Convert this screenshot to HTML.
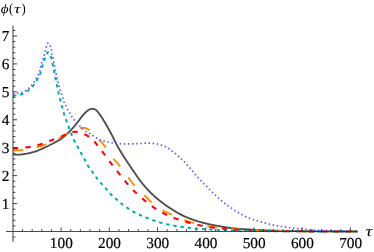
<!DOCTYPE html>
<html><head><meta charset="utf-8"><title>plot</title>
<style>html,body{margin:0;padding:0;background:#fff;}body{width:374px;height:252px;overflow:hidden;font-family:"Liberation Serif",serif;}svg{display:block;transform:translateZ(0);will-change:transform}</style>
</head><body>
<svg width="374" height="252" viewBox="0 0 374 252">
<rect width="374" height="252" fill="#fff"/>
<path d="M13.00,154.55 L13.50,154.59 L14.00,154.62 L14.50,154.64 L15.00,154.67 L15.50,154.68 L16.00,154.69 L16.50,154.70 L17.00,154.70 L17.50,154.70 L18.00,154.68 L18.50,154.66 L19.00,154.64 L19.50,154.60 L20.00,154.57 L20.50,154.53 L21.00,154.49 L21.50,154.44 L22.00,154.40 L22.50,154.35 L23.00,154.29 L23.50,154.23 L24.00,154.15 L24.50,154.07 L25.00,153.99 L25.50,153.90 L26.00,153.81 L26.50,153.71 L27.00,153.62 L27.50,153.52 L28.00,153.42 L28.50,153.32 L29.00,153.21 L29.50,153.10 L30.00,152.98 L30.50,152.86 L31.00,152.73 L31.50,152.60 L32.00,152.47 L32.50,152.34 L33.00,152.20 L33.50,152.05 L34.00,151.90 L34.50,151.75 L35.00,151.60 L35.50,151.44 L36.00,151.27 L36.50,151.09 L37.00,150.91 L37.50,150.72 L38.00,150.52 L38.50,150.32 L39.00,150.11 L39.50,149.90 L40.00,149.69 L40.50,149.47 L41.00,149.25 L41.50,149.02 L42.00,148.80 L42.50,148.57 L43.00,148.34 L43.50,148.12 L44.00,147.89 L44.50,147.66 L45.00,147.44 L45.50,147.21 L46.00,146.97 L46.50,146.74 L47.00,146.50 L47.50,146.26 L48.00,146.02 L48.50,145.78 L49.00,145.53 L49.50,145.28 L50.00,145.03 L50.50,144.78 L51.00,144.52 L51.50,144.26 L52.00,144.00 L52.50,143.74 L53.00,143.47 L53.50,143.21 L54.00,142.94 L54.50,142.67 L55.00,142.40 L55.50,142.13 L56.00,141.86 L56.50,141.59 L57.00,141.31 L57.50,141.03 L58.00,140.74 L58.50,140.45 L59.00,140.15 L59.50,139.84 L60.00,139.53 L60.50,139.21 L61.00,138.87 L61.50,138.53 L62.00,138.17 L62.50,137.80 L63.00,137.41 L63.50,137.01 L64.00,136.60 L64.50,136.18 L65.00,135.75 L65.50,135.31 L66.00,134.87 L66.50,134.42 L67.00,133.96 L67.50,133.51 L68.00,133.04 L68.50,132.57 L69.00,132.08 L69.50,131.59 L70.00,131.08 L70.50,130.57 L71.00,130.04 L71.50,129.51 L72.00,128.96 L72.50,128.40 L73.00,127.82 L73.50,127.23 L74.00,126.63 L74.50,126.03 L75.00,125.41 L75.50,124.80 L76.00,124.18 L76.50,123.57 L77.00,122.95 L77.50,122.32 L78.00,121.68 L78.50,121.02 L79.00,120.36 L79.50,119.69 L80.00,119.01 L80.50,118.34 L81.00,117.68 L81.50,117.02 L82.00,116.38 L82.50,115.76 L83.00,115.15 L83.50,114.57 L84.00,114.02 L84.50,113.50 L85.00,113.00 L85.50,112.51 L86.00,112.03 L86.50,111.58 L87.00,111.15 L87.50,110.75 L88.00,110.39 L88.50,110.08 L89.00,109.78 L89.50,109.51 L90.00,109.29 L90.50,109.12 L91.00,108.97 L91.50,108.85 L92.00,108.77 L92.50,108.76 L93.00,108.81 L93.50,108.90 L94.00,109.02 L94.50,109.19 L95.00,109.44 L95.50,109.74 L96.00,110.07 L96.50,110.48 L97.00,110.95 L97.50,111.50 L98.00,112.14 L98.50,112.80 L99.00,113.47 L99.50,114.15 L100.00,114.85 L100.50,115.57 L101.00,116.30 L101.50,117.04 L102.00,117.80 L102.50,118.57 L103.00,119.35 L103.50,120.14 L104.00,120.95 L104.50,121.77 L105.00,122.60 L105.50,123.45 L106.00,124.31 L106.50,125.18 L107.00,126.06 L107.50,126.95 L108.00,127.86 L108.50,128.77 L109.00,129.69 L109.50,130.61 L110.00,131.54 L110.50,132.48 L111.00,133.42 L111.50,134.37 L112.00,135.32 L112.50,136.28 L113.00,137.27 L113.50,138.28 L114.00,139.30 L114.50,140.33 L115.00,141.34 L115.50,142.33 L116.00,143.29 L116.50,144.23 L117.00,145.15 L117.50,146.07 L118.00,146.97 L118.50,147.87 L119.00,148.75 L119.50,149.62 L120.00,150.48 L120.50,151.33 L121.00,152.17 L121.50,152.99 L122.00,153.81 L122.50,154.61 L123.00,155.40 L123.50,156.19 L124.00,156.97 L124.50,157.74 L125.00,158.51 L125.50,159.27 L126.00,160.03 L126.50,160.79 L127.00,161.55 L127.50,162.30 L128.00,163.05 L128.50,163.80 L129.00,164.54 L129.50,165.28 L130.00,166.01 L130.50,166.75 L131.00,167.48 L131.50,168.20 L132.00,168.93 L132.50,169.66 L133.00,170.38 L133.50,171.11 L134.00,171.84 L134.50,172.58 L135.00,173.32 L135.50,174.07 L136.00,174.82 L136.50,175.57 L137.00,176.31 L137.50,177.04 L138.00,177.77 L138.50,178.48 L139.00,179.17 L139.50,179.85 L140.00,180.50 L140.50,181.14 L141.00,181.77 L141.50,182.39 L142.00,183.01 L142.50,183.63 L143.00,184.23 L143.50,184.83 L144.00,185.43 L144.50,186.01 L145.00,186.59 L145.50,187.17 L146.00,187.74 L146.50,188.30 L147.00,188.85 L147.50,189.40 L148.00,189.94 L148.50,190.47 L149.00,191.00 L149.50,191.51 L150.00,192.03 L150.50,192.53 L151.00,193.03 L151.50,193.52 L152.00,194.00 L152.50,194.48 L153.00,194.94 L153.50,195.41 L154.00,195.86 L154.50,196.31 L155.00,196.75 L155.50,197.19 L156.00,197.62 L156.50,198.05 L157.00,198.47 L157.50,198.89 L158.00,199.30 L158.50,199.71 L159.00,200.12 L159.50,200.52 L160.00,200.92 L160.50,201.31 L161.00,201.70 L161.50,202.09 L162.00,202.48 L162.50,202.86 L163.00,203.24 L163.50,203.62 L164.00,204.00 L164.50,204.37 L165.00,204.74 L165.50,205.10 L166.00,205.46 L166.50,205.80 L167.00,206.13 L167.50,206.46 L168.00,206.79 L168.50,207.12 L169.00,207.44 L169.50,207.77 L170.00,208.10 L170.50,208.42 L171.00,208.74 L171.50,209.07 L172.00,209.39 L172.50,209.70 L173.00,210.02 L173.50,210.34 L174.00,210.65 L174.50,210.96 L175.00,211.26 L175.50,211.57 L176.00,211.87 L176.50,212.17 L177.00,212.46 L177.50,212.75 L178.00,213.04 L178.50,213.32 L179.00,213.60 L179.50,213.87 L180.00,214.14 L180.50,214.41 L181.00,214.67 L181.50,214.92 L182.00,215.17 L182.50,215.41 L183.00,215.65 L183.50,215.88 L184.00,216.11 L184.50,216.33 L185.00,216.55 L185.50,216.77 L186.00,216.98 L186.50,217.19 L187.00,217.39 L187.50,217.60 L188.00,217.80 L188.50,218.00 L189.00,218.20 L189.50,218.39 L190.00,218.58 L190.50,218.77 L191.00,218.96 L191.50,219.15 L192.00,219.33 L192.50,219.51 L193.00,219.68 L193.50,219.86 L194.00,220.03 L194.50,220.20 L195.00,220.37 L195.50,220.53 L196.00,220.69 L196.50,220.85 L197.00,221.01 L197.50,221.17 L198.00,221.32 L198.50,221.47 L199.00,221.62 L199.50,221.77 L200.00,221.91 L200.50,222.05 L201.00,222.19 L201.50,222.33 L202.00,222.46 L202.50,222.60 L203.00,222.73 L203.50,222.86 L204.00,222.98 L204.50,223.11 L205.00,223.24 L205.50,223.36 L206.00,223.48 L206.50,223.60 L207.00,223.72 L207.50,223.83 L208.00,223.95 L208.50,224.06 L209.00,224.17 L209.50,224.28 L210.00,224.39 L210.50,224.50 L211.00,224.61 L211.50,224.71 L212.00,224.82 L212.50,224.92 L213.00,225.02 L213.50,225.12 L214.00,225.22 L214.50,225.31 L215.00,225.41 L215.50,225.50 L216.00,225.60 L216.50,225.69 L217.00,225.78 L217.50,225.87 L218.00,225.96 L218.50,226.05 L219.00,226.14 L219.50,226.23 L220.00,226.32 L220.50,226.41 L221.00,226.50 L221.50,226.59 L222.00,226.67 L222.50,226.76 L223.00,226.85 L223.50,226.93 L224.00,227.01 L224.50,227.10 L225.00,227.18 L225.50,227.26 L226.00,227.34 L226.50,227.42 L227.00,227.49 L227.50,227.57 L228.00,227.64 L228.50,227.71 L229.00,227.78 L229.50,227.85 L230.00,227.92 L230.50,227.98 L231.00,228.05 L231.50,228.11 L232.00,228.17 L232.50,228.22 L233.00,228.28 L233.50,228.33 L234.00,228.38 L234.50,228.43 L235.00,228.48 L235.50,228.52 L236.00,228.57 L236.50,228.61 L237.00,228.65 L237.50,228.69 L238.00,228.73 L238.50,228.77 L239.00,228.81 L239.50,228.85 L240.00,228.89 L240.50,228.92 L241.00,228.96 L241.50,228.99 L242.00,229.03 L242.50,229.06 L243.00,229.10 L243.50,229.13 L244.00,229.16 L244.50,229.19 L245.00,229.22 L245.50,229.25 L246.00,229.29 L246.50,229.32 L247.00,229.35 L247.50,229.37 L248.00,229.40 L248.50,229.43 L249.00,229.46 L249.50,229.49 L250.00,229.52 L250.50,229.55 L251.00,229.58 L251.50,229.61 L252.00,229.63 L252.50,229.66 L253.00,229.69 L253.50,229.72 L254.00,229.75 L254.50,229.78 L255.00,229.80 L255.50,229.83 L256.00,229.86 L256.50,229.89 L257.00,229.91 L257.50,229.94 L258.00,229.97 L258.50,229.99 L259.00,230.02 L259.50,230.05 L260.00,230.07 L260.50,230.10 L261.00,230.12 L261.50,230.15 L262.00,230.17 L262.50,230.20 L263.00,230.22 L263.50,230.24 L264.00,230.27 L264.50,230.29 L265.00,230.31 L265.50,230.33 L266.00,230.35 L266.50,230.37 L267.00,230.39 L267.50,230.41 L268.00,230.43 L268.50,230.45 L269.00,230.47 L269.50,230.48 L270.00,230.50 L270.50,230.52 L271.00,230.53 L271.50,230.55 L272.00,230.56 L272.50,230.58 L273.00,230.60 L273.50,230.61 L274.00,230.63 L274.50,230.64 L275.00,230.66 L275.50,230.67 L276.00,230.69 L276.50,230.70 L277.00,230.72 L277.50,230.73 L278.00,230.75 L278.50,230.76 L279.00,230.78 L279.50,230.79 L280.00,230.81 L280.50,230.82 L281.00,230.83 L281.50,230.85 L282.00,230.86 L282.50,230.87 L283.00,230.89 L283.50,230.90 L284.00,230.91 L284.50,230.92 L285.00,230.94 L285.50,230.95 L286.00,230.96 L286.50,230.97 L287.00,230.98 L287.50,231.00 L288.00,231.01 L288.50,231.02 L289.00,231.03 L289.50,231.04 L290.00,231.05 L290.50,231.06 L291.00,231.07 L291.50,231.08 L292.00,231.09 L292.50,231.10 L293.00,231.11 L293.50,231.11 L294.00,231.12 L294.50,231.13 L295.00,231.14 L295.50,231.15 L296.00,231.15 L296.50,231.16 L297.00,231.17 L297.50,231.17 L298.00,231.18 L298.50,231.18 L299.00,231.19 L299.50,231.20 L300.00,231.20 L300.50,231.20 L301.00,231.21 L301.50,231.21 L302.00,231.22 L302.50,231.22 L303.00,231.23 L303.50,231.23 L304.00,231.24 L304.50,231.24 L305.00,231.24 L305.50,231.25 L306.00,231.25 L306.50,231.26 L307.00,231.26 L307.50,231.27 L308.00,231.27 L308.50,231.27 L309.00,231.28 L309.50,231.28 L310.00,231.29 L310.50,231.29 L311.00,231.29 L311.50,231.30 L312.00,231.30 L312.50,231.31 L313.00,231.31 L313.50,231.31 L314.00,231.32 L314.50,231.32 L315.00,231.33 L315.50,231.33 L316.00,231.33 L316.50,231.34 L317.00,231.34 L317.50,231.34 L318.00,231.35 L318.50,231.35 L319.00,231.35 L319.50,231.36 L320.00,231.36 L320.50,231.36 L321.00,231.37 L321.50,231.37 L322.00,231.37 L322.50,231.38 L323.00,231.38 L323.50,231.38 L324.00,231.39 L324.50,231.39 L325.00,231.39 L325.50,231.40 L326.00,231.40 L326.50,231.40 L327.00,231.41 L327.50,231.41 L328.00,231.41 L328.50,231.41 L329.00,231.42 L329.50,231.42 L330.00,231.42 L330.50,231.43 L331.00,231.43 L331.50,231.43 L332.00,231.43 L332.50,231.44 L333.00,231.44 L333.50,231.44 L334.00,231.44 L334.50,231.44 L335.00,231.45 L335.50,231.45 L336.00,231.45 L336.50,231.45 L337.00,231.46 L337.50,231.46 L338.00,231.46 L338.50,231.46 L339.00,231.46 L339.50,231.47 L340.00,231.47 L340.50,231.47 L341.00,231.47 L341.50,231.47 L342.00,231.47 L342.50,231.48 L343.00,231.48 L343.50,231.48 L344.00,231.48 L344.50,231.48 L345.00,231.48 L345.50,231.48 L346.00,231.49 L346.50,231.49 L347.00,231.49 L347.50,231.49 L348.00,231.49 L348.50,231.49 L349.00,231.49 L349.50,231.49 L350.00,231.49 L350.50,231.49 L351.00,231.50 L351.50,231.50 L352.00,231.50 L352.50,231.50 L353.00,231.50 L353.50,231.50 L354.00,231.50 L354.50,231.50 L355.00,231.50 L355.50,231.50 L356.00,231.50 L356.50,231.50 L357.00,231.50 L357.50,231.50" fill="none" stroke="#4e4e4e" stroke-width="1.85" stroke-linejoin="round"/>
<path d="M13.00,150.50 L13.25,150.50 L13.50,150.50 L13.75,150.50 L14.00,150.49 L14.25,150.49 L14.50,150.49 L14.75,150.49 L15.00,150.48 L15.25,150.48 L15.50,150.47 L15.75,150.46 L16.00,150.46 L16.25,150.45 L16.50,150.44 L16.75,150.44 L17.00,150.43 L17.25,150.42 L17.50,150.41 L17.75,150.40 L18.00,150.39 L18.25,150.39 L18.50,150.38 L18.75,150.37 L19.00,150.36 L19.25,150.35 L19.50,150.33 L19.75,150.32 L20.00,150.31 L20.25,150.30 L20.50,150.29 L20.75,150.28 L21.00,150.26 L21.25,150.25 L21.50,150.23 L21.75,150.21 L22.00,150.19 L22.25,150.16 L22.50,150.14 L22.75,150.11 L23.00,150.09 L23.25,150.06 L23.50,150.03 L23.75,150.00 L24.00,149.97 L24.25,149.94 L24.50,149.90 L24.75,149.87 L25.00,149.83 L25.25,149.80 L25.50,149.76 L25.75,149.72 L26.00,149.68 L26.25,149.64 L26.50,149.60 L26.75,149.56 L27.00,149.52 L27.25,149.48 L27.50,149.44 L27.75,149.40 L28.00,149.35 L28.25,149.31 L28.50,149.27 L28.75,149.22 L29.00,149.18 L29.25,149.13 L29.50,149.09 L29.75,149.04 L30.00,149.00 L30.25,148.95 L30.50,148.91 L30.75,148.86 L31.00,148.81 L31.25,148.76 L31.50,148.71 L31.75,148.65 L32.00,148.60 L32.25,148.54 L32.50,148.48 L32.75,148.43 L33.00,148.37 L33.25,148.30 L33.50,148.24 L33.75,148.18 L34.00,148.11 L34.25,148.05 L34.50,147.98 L34.75,147.92 L35.00,147.85 L35.25,147.78 L35.50,147.71 L35.75,147.64 L36.00,147.57 L36.25,147.49 L36.50,147.42 L36.75,147.35 L37.00,147.27 L37.25,147.20 L37.50,147.13 L37.75,147.05 L38.00,146.97 L38.25,146.90 L38.50,146.82 L38.75,146.74 L39.00,146.67 L39.25,146.59 L39.50,146.51 L39.75,146.43 L40.00,146.35 L40.25,146.27 L40.50,146.19 L40.75,146.12 L41.00,146.04 L41.25,145.96 L41.50,145.87 L41.75,145.79 L42.00,145.71 L42.25,145.63 L42.50,145.54 L42.75,145.45 L43.00,145.37 L43.25,145.28 L43.50,145.19 L43.75,145.10 L44.00,145.01 L44.25,144.92 L44.50,144.83 L44.75,144.74 L45.00,144.64 L45.25,144.55 L45.50,144.45 L45.75,144.36 L46.00,144.26 L46.25,144.16 L46.50,144.07 L46.75,143.97 L47.00,143.87 L47.25,143.77 L47.50,143.67 L47.75,143.57 L48.00,143.46 L48.25,143.36 L48.50,143.26 L48.75,143.16 L49.00,143.05 L49.25,142.95 L49.50,142.84 L49.75,142.74 L50.00,142.63 L50.25,142.52 L50.50,142.42 L50.75,142.31 L51.00,142.20 L51.25,142.09 L51.50,141.98 L51.75,141.87 L52.00,141.76 L52.25,141.65 L52.50,141.53 L52.75,141.42 L53.00,141.30 L53.25,141.19 L53.50,141.07 L53.75,140.95 L54.00,140.83 L54.25,140.71 L54.50,140.59 L54.75,140.47 L55.00,140.35 L55.25,140.22 L55.50,140.10 L55.75,139.98 L56.00,139.85 L56.25,139.73 L56.50,139.60 L56.75,139.47 L57.00,139.34 L57.25,139.21 L57.50,139.09 L57.75,138.96 L58.00,138.83 L58.25,138.69 L58.50,138.56 L58.75,138.43 L59.00,138.30 L59.25,138.16 L59.50,138.03 L59.75,137.90 L60.00,137.76 L60.25,137.63 L60.50,137.49 L60.75,137.36 L61.00,137.22 L61.25,137.08 L61.50,136.94 L61.75,136.81 L62.00,136.66 L62.25,136.52 L62.50,136.37 L62.75,136.22 L63.00,136.07 L63.25,135.92 L63.50,135.77 L63.75,135.61 L64.00,135.45 L64.25,135.30 L64.50,135.14 L64.75,134.98 L65.00,134.82 L65.25,134.66 L65.50,134.50 L65.75,134.34 L66.00,134.18 L66.25,134.02 L66.50,133.86 L66.75,133.70 L67.00,133.55 L67.25,133.39 L67.50,133.24 L67.75,133.08 L68.00,132.93 L68.25,132.78 L68.50,132.64 L68.75,132.49 L69.00,132.35 L69.25,132.21 L69.50,132.07 L69.75,131.93 L70.00,131.80 L70.25,131.67 L70.50,131.54 L70.75,131.40 L71.00,131.27 L71.25,131.14 L71.50,131.01 L71.75,130.88 L72.00,130.74 L72.25,130.62 L72.50,130.49 L72.75,130.36 L73.00,130.24 L73.25,130.11 L73.50,129.99 L73.75,129.88 L74.00,129.76 L74.25,129.65 L74.50,129.55 L74.75,129.44 L75.00,129.35 L75.25,129.25 L75.50,129.16 L75.75,129.08 L76.00,129.00 L76.25,128.92 L76.50,128.85 L76.75,128.77 L77.00,128.70 L77.25,128.63 L77.50,128.56 L77.75,128.49 L78.00,128.42 L78.25,128.36 L78.50,128.30 L78.75,128.24 L79.00,128.19 L79.25,128.14 L79.50,128.10 L79.75,128.06 L80.00,128.03 L80.25,128.00 L80.50,127.98 L80.75,127.96 L81.00,127.94 L81.25,127.92 L81.50,127.90 L81.75,127.89 L82.00,127.87 L82.25,127.85 L82.50,127.84 L82.75,127.83 L83.00,127.82 L83.25,127.81 L83.50,127.80 L83.75,127.80 L84.00,127.80 L84.25,127.81 L84.50,127.83 L84.75,127.87 L85.00,127.92 L85.25,127.98 L85.50,128.06 L85.75,128.14 L86.00,128.24 L86.25,128.34 L86.50,128.46 L86.75,128.58 L87.00,128.71 L87.25,128.84 L87.50,128.98 L87.75,129.13 L88.00,129.27 L88.25,129.42 L88.50,129.57 L88.75,129.73 L89.00,129.88 L89.25,130.03 L89.50,130.18 L89.75,130.33 L90.00,130.49 L90.25,130.65 L90.50,130.83 L90.75,131.02 L91.00,131.21 L91.25,131.42 L91.50,131.63 L91.75,131.85 L92.00,132.07 L92.25,132.30 L92.50,132.54 L92.75,132.78 L93.00,133.02 L93.25,133.27 L93.50,133.51 L93.75,133.76 L94.00,134.01 L94.25,134.26 L94.50,134.51 L94.75,134.76 L95.00,135.00 L95.25,135.24 L95.50,135.49 L95.75,135.74 L96.00,136.00 L96.25,136.25 L96.50,136.51 L96.75,136.77 L97.00,137.03 L97.25,137.30 L97.50,137.57 L97.75,137.84 L98.00,138.11 L98.25,138.39 L98.50,138.66 L98.75,138.94 L99.00,139.23 L99.25,139.51 L99.50,139.79 L99.75,140.08 L100.00,140.37 L100.25,140.66 L100.50,140.95 L100.75,141.25 L101.00,141.54 L101.25,141.84 L101.50,142.15 L101.75,142.45 L102.00,142.76 L102.25,143.07 L102.50,143.38 L102.75,143.69 L103.00,144.01 L103.25,144.33 L103.50,144.65 L103.75,144.97 L104.00,145.29 L104.25,145.62 L104.50,145.94 L104.75,146.27 L105.00,146.60 L105.25,146.93 L105.50,147.26 L105.75,147.60 L106.00,147.93 L106.25,148.27 L106.50,148.61 L106.75,148.95 L107.00,149.30 L107.25,149.66 L107.50,150.02 L107.75,150.39 L108.00,150.75 L108.25,151.13 L108.50,151.50 L108.75,151.87 L109.00,152.25 L109.25,152.63 L109.50,153.01 L109.75,153.39 L110.00,153.77 L110.25,154.15 L110.50,154.52 L110.75,154.90 L111.00,155.27 L111.25,155.64 L111.50,156.01 L111.75,156.37 L112.00,156.73 L112.25,157.09 L112.50,157.44 L112.75,157.78 L113.00,158.12 L113.25,158.45 L113.50,158.77 L113.75,159.09 L114.00,159.40 L114.25,159.70 L114.50,159.99 L114.75,160.27 L115.00,160.54 L115.25,160.80 L115.50,161.07 L115.75,161.33 L116.00,161.59 L116.25,161.85 L116.50,162.12 L116.75,162.40 L117.00,162.68 L117.25,162.98 L117.50,163.27 L117.75,163.57 L118.00,163.87 L118.25,164.17 L118.50,164.48 L118.75,164.78 L119.00,165.09 L119.25,165.40 L119.50,165.72 L119.75,166.03 L120.00,166.35 L120.25,166.66 L120.50,166.98 L120.75,167.30 L121.00,167.62 L121.25,167.95 L121.50,168.27 L121.75,168.60 L122.00,168.93 L122.25,169.26 L122.50,169.58 L122.75,169.92 L123.00,170.25 L123.25,170.58 L123.50,170.91 L123.75,171.25 L124.00,171.58 L124.25,171.92 L124.50,172.26 L124.75,172.60 L125.00,172.93 L125.25,173.27 L125.50,173.61 L125.75,173.95 L126.00,174.29 L126.25,174.63 L126.50,174.97 L126.75,175.31 L127.00,175.65 L127.25,175.99 L127.50,176.33 L127.75,176.67 L128.00,177.01 L128.25,177.35 L128.50,177.69 L128.75,178.03 L129.00,178.37 L129.25,178.71 L129.50,179.05 L129.75,179.39 L130.00,179.73 L130.25,180.06 L130.50,180.40 L130.75,180.73 L131.00,181.07 L131.25,181.42 L131.50,181.77 L131.75,182.12 L132.00,182.46 L132.25,182.79 L132.50,183.10 L132.75,183.40 L133.00,183.70 L133.25,183.99 L133.50,184.28 L133.75,184.57 L134.00,184.86 L134.25,185.14 L134.50,185.42 L134.75,185.70 L135.00,185.97 L135.25,186.25 L135.50,186.52 L135.75,186.79 L136.00,187.05 L136.25,187.32 L136.50,187.58 L136.75,187.84 L137.00,188.10 L137.25,188.35 L137.50,188.61 L137.75,188.86 L138.00,189.11 L138.25,189.36 L138.50,189.61 L138.75,189.86 L139.00,190.11 L139.25,190.35 L139.50,190.60 L139.75,190.84 L140.00,191.09 L140.25,191.33 L140.50,191.57 L140.75,191.81 L141.00,192.05 L141.25,192.29 L141.50,192.53 L141.75,192.77 L142.00,193.01 L142.25,193.25 L142.50,193.49 L142.75,193.73 L143.00,193.97 L143.25,194.20 L143.50,194.44 L143.75,194.68 L144.00,194.93 L144.25,195.17 L144.50,195.41 L144.75,195.65 L145.00,195.89 L145.25,196.14 L145.50,196.38 L145.75,196.63 L146.00,196.88 L146.25,197.12 L146.50,197.37 L146.75,197.63 L147.00,197.88 L147.25,198.13 L147.50,198.39 L147.75,198.64 L148.00,198.90 L148.25,199.17 L148.50,199.44 L148.75,199.72 L149.00,199.99 L149.25,200.26 L149.50,200.52 L149.75,200.77 L150.00,201.00 L150.25,201.22 L150.50,201.45 L150.75,201.67 L151.00,201.89 L151.25,202.11 L151.50,202.32 L151.75,202.54 L152.00,202.75 L152.25,202.96 L152.50,203.17 L152.75,203.38 L153.00,203.59 L153.25,203.79 L153.50,204.00 L153.75,204.20 L154.00,204.40 L154.25,204.60 L154.50,204.80 L154.75,205.00 L155.00,205.19 L155.25,205.38 L155.50,205.57 L155.75,205.76 L156.00,205.95 L156.25,206.14 L156.50,206.32 L156.75,206.51 L157.00,206.69 L157.25,206.87 L157.50,207.05 L157.75,207.23 L158.00,207.40 L158.25,207.58 L158.50,207.75 L158.75,207.92 L159.00,208.09 L159.25,208.26 L159.50,208.42 L159.75,208.59 L160.00,208.75 L160.25,208.91 L160.50,209.07 L160.75,209.23 L161.00,209.38 L161.25,209.54 L161.50,209.69 L161.75,209.84 L162.00,209.99 L162.25,210.14 L162.50,210.29 L162.75,210.43 L163.00,210.57 L163.25,210.72 L163.50,210.86 L163.75,210.99 L164.00,211.13 L164.25,211.26 L164.50,211.38 L164.75,211.51 L165.00,211.63 L165.25,211.75 L165.50,211.87 L165.75,211.99 L166.00,212.10 L166.25,212.22 L166.50,212.33 L166.75,212.44 L167.00,212.55 L167.25,212.67 L167.50,212.78 L167.75,212.89 L168.00,213.00 L168.25,213.11 L168.50,213.22 L168.75,213.34 L169.00,213.45 L169.25,213.56 L169.50,213.67 L169.75,213.79 L170.00,213.90 L170.25,214.01 L170.50,214.13 L170.75,214.24 L171.00,214.35 L171.25,214.46 L171.50,214.58 L171.75,214.69 L172.00,214.80 L172.25,214.92 L172.50,215.03 L172.75,215.14 L173.00,215.26 L173.25,215.37 L173.50,215.48 L173.75,215.60 L174.00,215.71 L174.25,215.82 L174.50,215.93 L174.75,216.04 L175.00,216.16 L175.25,216.27 L175.50,216.38 L175.75,216.49 L176.00,216.60 L176.25,216.71 L176.50,216.82 L176.75,216.93 L177.00,217.04 L177.25,217.15 L177.50,217.26 L177.75,217.37 L178.00,217.48 L178.25,217.59 L178.50,217.69 L178.75,217.80 L179.00,217.91 L179.25,218.01 L179.50,218.12 L179.75,218.23 L180.00,218.33 L180.25,218.43 L180.50,218.54 L180.75,218.64 L181.00,218.74 L181.25,218.85 L181.50,218.95 L181.75,219.05 L182.00,219.15 L182.25,219.25 L182.50,219.35 L182.75,219.45 L183.00,219.54 L183.25,219.64 L183.50,219.74 L183.75,219.83 L184.00,219.93 L184.25,220.02 L184.50,220.12 L184.75,220.21 L185.00,220.30 L185.25,220.39 L185.50,220.48 L185.75,220.57 L186.00,220.66 L186.25,220.75 L186.50,220.83 L186.75,220.92 L187.00,221.00 L187.25,221.09 L187.50,221.17 L187.75,221.25 L188.00,221.33 L188.25,221.41 L188.50,221.49 L188.75,221.57 L189.00,221.65 L189.25,221.72 L189.50,221.80 L189.75,221.87 L190.00,221.94 L190.25,222.01 L190.50,222.09 L190.75,222.16 L191.00,222.23 L191.25,222.30 L191.50,222.37 L191.75,222.43 L192.00,222.50 L192.25,222.57 L192.50,222.64 L192.75,222.71 L193.00,222.78 L193.25,222.84 L193.50,222.91 L193.75,222.98 L194.00,223.04 L194.25,223.11 L194.50,223.17 L194.75,223.24 L195.00,223.30 L195.25,223.37 L195.50,223.43 L195.75,223.50 L196.00,223.56 L196.25,223.62 L196.50,223.69 L196.75,223.75 L197.00,223.81 L197.25,223.87 L197.50,223.93 L197.75,223.99 L198.00,224.05 L198.25,224.11 L198.50,224.17 L198.75,224.23 L199.00,224.29 L199.25,224.35 L199.50,224.41 L199.75,224.46 L200.00,224.52 L200.25,224.58 L200.50,224.63 L200.75,224.69 L201.00,224.75 L201.25,224.80 L201.50,224.86 L201.75,224.91 L202.00,224.96 L202.25,225.02 L202.50,225.07 L202.75,225.12 L203.00,225.18 L203.25,225.23 L203.50,225.28 L203.75,225.33 L204.00,225.38 L204.25,225.43 L204.50,225.48 L204.75,225.53 L205.00,225.58 L205.25,225.63 L205.50,225.68 L205.75,225.72 L206.00,225.77 L206.25,225.82 L206.50,225.86 L206.75,225.91 L207.00,225.95 L207.25,226.00 L207.50,226.04 L207.75,226.09 L208.00,226.13 L208.25,226.17 L208.50,226.21 L208.75,226.26 L209.00,226.30 L209.25,226.34 L209.50,226.38 L209.75,226.42 L210.00,226.46 L210.25,226.50 L210.50,226.54 L210.75,226.57 L211.00,226.61 L211.25,226.65 L211.50,226.69 L211.75,226.72 L212.00,226.76 L212.25,226.79 L212.50,226.83 L212.75,226.86 L213.00,226.90 L213.25,226.93 L213.50,226.97 L213.75,227.00 L214.00,227.04 L214.25,227.07 L214.50,227.11 L214.75,227.14 L215.00,227.17 L215.25,227.21 L215.50,227.24 L215.75,227.27 L216.00,227.30 L216.25,227.34 L216.50,227.37 L216.75,227.40 L217.00,227.43 L217.25,227.46 L217.50,227.50 L217.75,227.53 L218.00,227.56 L218.25,227.59 L218.50,227.62 L218.75,227.65 L219.00,227.68 L219.25,227.71 L219.50,227.74 L219.75,227.77 L220.00,227.80 L220.25,227.83 L220.50,227.86 L220.75,227.89 L221.00,227.91 L221.25,227.94 L221.50,227.97 L221.75,228.00 L222.00,228.03 L222.25,228.05 L222.50,228.08 L222.75,228.11 L223.00,228.14 L223.25,228.16 L223.50,228.19 L223.75,228.21 L224.00,228.24 L224.25,228.27 L224.50,228.29 L224.75,228.32 L225.00,228.34 L225.25,228.37 L225.50,228.39 L225.75,228.42 L226.00,228.44 L226.25,228.47 L226.50,228.49 L226.75,228.52 L227.00,228.54 L227.25,228.56 L227.50,228.59 L227.75,228.61 L228.00,228.63 L228.25,228.66 L228.50,228.68 L228.75,228.70 L229.00,228.72 L229.25,228.75 L229.50,228.77 L229.75,228.79 L230.00,228.81 L230.25,228.83 L230.50,228.85 L230.75,228.87 L231.00,228.89 L231.25,228.92 L231.50,228.94 L231.75,228.96 L232.00,228.98 L232.25,229.00 L232.50,229.01 L232.75,229.03 L233.00,229.05 L233.25,229.07 L233.50,229.09 L233.75,229.11 L234.00,229.13 L234.25,229.15 L234.50,229.16 L234.75,229.18 L235.00,229.20 L235.25,229.22 L235.50,229.23 L235.75,229.25 L236.00,229.27 L236.25,229.29 L236.50,229.30 L236.75,229.32 L237.00,229.34 L237.25,229.36 L237.50,229.37 L237.75,229.39 L238.00,229.41 L238.25,229.42 L238.50,229.44 L238.75,229.45 L239.00,229.47 L239.25,229.49 L239.50,229.50 L239.75,229.52 L240.00,229.54 L240.25,229.55 L240.50,229.57 L240.75,229.58 L241.00,229.60 L241.25,229.61 L241.50,229.63 L241.75,229.65 L242.00,229.66 L242.25,229.68 L242.50,229.69 L242.75,229.71 L243.00,229.72 L243.25,229.74 L243.50,229.75 L243.75,229.77 L244.00,229.78 L244.25,229.80 L244.50,229.81 L244.75,229.82 L245.00,229.84 L245.25,229.85 L245.50,229.87 L245.75,229.88 L246.00,229.89 L246.25,229.91 L246.50,229.92 L246.75,229.94 L247.00,229.95 L247.25,229.96 L247.50,229.98 L247.75,229.99 L248.00,230.00 L248.25,230.02 L248.50,230.03 L248.75,230.04 L249.00,230.05 L249.25,230.07 L249.50,230.08 L249.75,230.09 L250.00,230.10 L250.25,230.12 L250.50,230.13 L250.75,230.14 L251.00,230.15 L251.25,230.16 L251.50,230.17 L251.75,230.19 L252.00,230.20 L252.25,230.21 L252.50,230.22 L252.75,230.23 L253.00,230.24 L253.25,230.25 L253.50,230.26 L253.75,230.27 L254.00,230.28 L254.25,230.29 L254.50,230.31 L254.75,230.32 L255.00,230.33 L255.25,230.34 L255.50,230.34 L255.75,230.35 L256.00,230.36 L256.25,230.37 L256.50,230.38 L256.75,230.39 L257.00,230.40 L257.25,230.41 L257.50,230.42 L257.75,230.43 L258.00,230.44 L258.25,230.44 L258.50,230.45 L258.75,230.46 L259.00,230.47 L259.25,230.48 L259.50,230.48 L259.75,230.49 L260.00,230.50 L260.25,230.51 L260.50,230.51 L260.75,230.52 L261.00,230.53 L261.25,230.54 L261.50,230.54 L261.75,230.55 L262.00,230.56 L262.25,230.57 L262.50,230.57 L262.75,230.58 L263.00,230.59 L263.25,230.60 L263.50,230.60 L263.75,230.61 L264.00,230.62 L264.25,230.62 L264.50,230.63 L264.75,230.64 L265.00,230.65 L265.25,230.65 L265.50,230.66 L265.75,230.67 L266.00,230.67 L266.25,230.68 L266.50,230.69 L266.75,230.69 L267.00,230.70 L267.25,230.71 L267.50,230.71 L267.75,230.72 L268.00,230.73 L268.25,230.74 L268.50,230.74 L268.75,230.75 L269.00,230.76 L269.25,230.76 L269.50,230.77 L269.75,230.78 L270.00,230.78 L270.25,230.79 L270.50,230.79 L270.75,230.80 L271.00,230.81 L271.25,230.81 L271.50,230.82 L271.75,230.83 L272.00,230.83 L272.25,230.84 L272.50,230.85 L272.75,230.85 L273.00,230.86 L273.25,230.86 L273.50,230.87 L273.75,230.88 L274.00,230.88 L274.25,230.89 L274.50,230.89 L274.75,230.90 L275.00,230.91 L275.25,230.91 L275.50,230.92 L275.75,230.92 L276.00,230.93 L276.25,230.94 L276.50,230.94 L276.75,230.95 L277.00,230.95 L277.25,230.96 L277.50,230.96 L277.75,230.97 L278.00,230.98 L278.25,230.98 L278.50,230.99 L278.75,230.99 L279.00,231.00 L279.25,231.00 L279.50,231.01 L279.75,231.01 L280.00,231.02 L280.25,231.02 L280.50,231.03 L280.75,231.03 L281.00,231.04 L281.25,231.04 L281.50,231.05 L281.75,231.05 L282.00,231.06 L282.25,231.06 L282.50,231.07 L282.75,231.07 L283.00,231.08 L283.25,231.08 L283.50,231.09 L283.75,231.09 L284.00,231.10 L284.25,231.10 L284.50,231.11 L284.75,231.11 L285.00,231.12 L285.25,231.12 L285.50,231.12 L285.75,231.13 L286.00,231.13 L286.25,231.14 L286.50,231.14 L286.75,231.15 L287.00,231.15 L287.25,231.15 L287.50,231.16 L287.75,231.16 L288.00,231.17 L288.25,231.17 L288.50,231.17 L288.75,231.18 L289.00,231.18 L289.25,231.19 L289.50,231.19 L289.75,231.19 L290.00,231.20 L290.25,231.20 L290.50,231.20 L290.75,231.21 L291.00,231.21 L291.25,231.21 L291.50,231.22 L291.75,231.22 L292.00,231.22 L292.25,231.23 L292.50,231.23 L292.75,231.23 L293.00,231.24 L293.25,231.24 L293.50,231.24 L293.75,231.24 L294.00,231.25 L294.25,231.25 L294.50,231.25 L294.75,231.26 L295.00,231.26 L295.25,231.26 L295.50,231.26 L295.75,231.27 L296.00,231.27 L296.25,231.27 L296.50,231.27 L296.75,231.28 L297.00,231.28 L297.25,231.28 L297.50,231.28 L297.75,231.28 L298.00,231.29 L298.25,231.29 L298.50,231.29 L298.75,231.29 L299.00,231.29 L299.25,231.30 L299.50,231.30 L299.75,231.30 L300.00,231.30 L300.25,231.30 L300.50,231.30 L300.75,231.30 L301.00,231.31 L301.25,231.31 L301.50,231.31 L301.75,231.31 L302.00,231.31 L302.25,231.31 L302.50,231.32 L302.75,231.32 L303.00,231.32 L303.25,231.32 L303.50,231.32 L303.75,231.32 L304.00,231.32 L304.25,231.33 L304.50,231.33 L304.75,231.33 L305.00,231.33 L305.25,231.33 L305.50,231.33 L305.75,231.33 L306.00,231.34 L306.25,231.34 L306.50,231.34 L306.75,231.34 L307.00,231.34 L307.25,231.34 L307.50,231.34 L307.75,231.35 L308.00,231.35 L308.25,231.35 L308.50,231.35 L308.75,231.35 L309.00,231.35 L309.25,231.35 L309.50,231.36 L309.75,231.36 L310.00,231.36 L310.25,231.36 L310.50,231.36 L310.75,231.36 L311.00,231.36 L311.25,231.36 L311.50,231.37 L311.75,231.37 L312.00,231.37 L312.25,231.37 L312.50,231.37 L312.75,231.37 L313.00,231.37 L313.25,231.38 L313.50,231.38 L313.75,231.38 L314.00,231.38 L314.25,231.38 L314.50,231.38 L314.75,231.38 L315.00,231.38 L315.25,231.39 L315.50,231.39 L315.75,231.39 L316.00,231.39 L316.25,231.39 L316.50,231.39 L316.75,231.39 L317.00,231.39 L317.25,231.40 L317.50,231.40 L317.75,231.40 L318.00,231.40 L318.25,231.40 L318.50,231.40 L318.75,231.40 L319.00,231.40 L319.25,231.40 L319.50,231.41 L319.75,231.41 L320.00,231.41 L320.25,231.41 L320.50,231.41 L320.75,231.41 L321.00,231.41 L321.25,231.41 L321.50,231.42 L321.75,231.42 L322.00,231.42 L322.25,231.42 L322.50,231.42 L322.75,231.42 L323.00,231.42 L323.25,231.42 L323.50,231.42 L323.75,231.42 L324.00,231.43 L324.25,231.43 L324.50,231.43 L324.75,231.43 L325.00,231.43 L325.25,231.43 L325.50,231.43 L325.75,231.43 L326.00,231.43 L326.25,231.43 L326.50,231.44 L326.75,231.44 L327.00,231.44 L327.25,231.44 L327.50,231.44 L327.75,231.44 L328.00,231.44 L328.25,231.44 L328.50,231.44 L328.75,231.44 L329.00,231.45 L329.25,231.45 L329.50,231.45 L329.75,231.45 L330.00,231.45 L330.25,231.45 L330.50,231.45 L330.75,231.45 L331.00,231.45 L331.25,231.45 L331.50,231.45 L331.75,231.45 L332.00,231.46 L332.25,231.46 L332.50,231.46 L332.75,231.46 L333.00,231.46 L333.25,231.46 L333.50,231.46 L333.75,231.46 L334.00,231.46 L334.25,231.46 L334.50,231.46 L334.75,231.46 L335.00,231.47 L335.25,231.47 L335.50,231.47 L335.75,231.47 L336.00,231.47 L336.25,231.47 L336.50,231.47 L336.75,231.47 L337.00,231.47 L337.25,231.47 L337.50,231.47 L337.75,231.47 L338.00,231.47 L338.25,231.47 L338.50,231.47 L338.75,231.48 L339.00,231.48 L339.25,231.48 L339.50,231.48 L339.75,231.48 L340.00,231.48 L340.25,231.48 L340.50,231.48 L340.75,231.48 L341.00,231.48 L341.25,231.48 L341.50,231.48 L341.75,231.48 L342.00,231.48 L342.25,231.48 L342.50,231.48 L342.75,231.48 L343.00,231.49 L343.25,231.49 L343.50,231.49 L343.75,231.49 L344.00,231.49 L344.25,231.49 L344.50,231.49 L344.75,231.49 L345.00,231.49 L345.25,231.49 L345.50,231.49 L345.75,231.49 L346.00,231.49 L346.25,231.49 L346.50,231.49 L346.75,231.49 L347.00,231.49 L347.25,231.49 L347.50,231.49 L347.75,231.49 L348.00,231.49 L348.25,231.49 L348.50,231.49 L348.75,231.49 L349.00,231.49 L349.25,231.50 L349.50,231.50 L349.75,231.50 L350.00,231.50 L350.25,231.50 L350.50,231.50 L350.75,231.50 L351.00,231.50 L351.25,231.50 L351.50,231.50 L351.75,231.50 L352.00,231.50 L352.25,231.50 L352.50,231.50 L352.75,231.50 L353.00,231.50 L353.25,231.50 L353.50,231.50 L353.75,231.50 L354.00,231.50 L354.25,231.50 L354.50,231.50 L354.75,231.50 L355.00,231.50 L355.25,231.50 L355.50,231.50 L355.75,231.50 L356.00,231.50 L356.25,231.50 L356.50,231.50 L356.75,231.50 L357.00,231.50 L357.25,231.50 L357.50,231.50" fill="none" stroke="#ff8800" stroke-width="1.85" stroke-dasharray="10.3 13.55" stroke-dashoffset="0.00" stroke-linejoin="round"/>
<path d="M13.00,148.40 L13.25,148.40 L13.50,148.40 L13.75,148.39 L14.00,148.39 L14.25,148.38 L14.50,148.38 L14.75,148.37 L15.00,148.36 L15.25,148.35 L15.50,148.34 L15.75,148.33 L16.00,148.32 L16.25,148.31 L16.50,148.30 L16.75,148.28 L17.00,148.27 L17.25,148.25 L17.50,148.24 L17.75,148.22 L18.00,148.20 L18.25,148.19 L18.50,148.17 L18.75,148.15 L19.00,148.13 L19.25,148.11 L19.50,148.09 L19.75,148.07 L20.00,148.05 L20.25,148.03 L20.50,148.00 L20.75,147.98 L21.00,147.96 L21.25,147.93 L21.50,147.91 L21.75,147.89 L22.00,147.86 L22.25,147.84 L22.50,147.81 L22.75,147.78 L23.00,147.76 L23.25,147.73 L23.50,147.71 L23.75,147.68 L24.00,147.65 L24.25,147.62 L24.50,147.60 L24.75,147.57 L25.00,147.54 L25.25,147.51 L25.50,147.48 L25.75,147.46 L26.00,147.43 L26.25,147.40 L26.50,147.37 L26.75,147.34 L27.00,147.31 L27.25,147.28 L27.50,147.25 L27.75,147.22 L28.00,147.19 L28.25,147.15 L28.50,147.12 L28.75,147.08 L29.00,147.04 L29.25,147.00 L29.50,146.96 L29.75,146.92 L30.00,146.88 L30.25,146.83 L30.50,146.79 L30.75,146.74 L31.00,146.70 L31.25,146.65 L31.50,146.60 L31.75,146.55 L32.00,146.50 L32.25,146.44 L32.50,146.39 L32.75,146.34 L33.00,146.28 L33.25,146.23 L33.50,146.17 L33.75,146.11 L34.00,146.06 L34.25,146.00 L34.50,145.94 L34.75,145.88 L35.00,145.82 L35.25,145.76 L35.50,145.69 L35.75,145.63 L36.00,145.57 L36.25,145.50 L36.50,145.44 L36.75,145.38 L37.00,145.31 L37.25,145.24 L37.50,145.18 L37.75,145.11 L38.00,145.05 L38.25,144.98 L38.50,144.91 L38.75,144.84 L39.00,144.77 L39.25,144.71 L39.50,144.64 L39.75,144.57 L40.00,144.50 L40.25,144.43 L40.50,144.36 L40.75,144.28 L41.00,144.21 L41.25,144.13 L41.50,144.05 L41.75,143.97 L42.00,143.88 L42.25,143.80 L42.50,143.71 L42.75,143.62 L43.00,143.53 L43.25,143.44 L43.50,143.35 L43.75,143.26 L44.00,143.16 L44.25,143.07 L44.50,142.97 L44.75,142.88 L45.00,142.78 L45.25,142.68 L45.50,142.58 L45.75,142.48 L46.00,142.38 L46.25,142.28 L46.50,142.18 L46.75,142.08 L47.00,141.98 L47.25,141.87 L47.50,141.77 L47.75,141.67 L48.00,141.57 L48.25,141.47 L48.50,141.37 L48.75,141.27 L49.00,141.17 L49.25,141.07 L49.50,140.97 L49.75,140.87 L50.00,140.77 L50.25,140.67 L50.50,140.58 L50.75,140.48 L51.00,140.39 L51.25,140.29 L51.50,140.20 L51.75,140.11 L52.00,140.02 L52.25,139.92 L52.50,139.83 L52.75,139.74 L53.00,139.65 L53.25,139.56 L53.50,139.47 L53.75,139.38 L54.00,139.29 L54.25,139.20 L54.50,139.11 L54.75,139.02 L55.00,138.93 L55.25,138.84 L55.50,138.75 L55.75,138.66 L56.00,138.57 L56.25,138.48 L56.50,138.38 L56.75,138.29 L57.00,138.20 L57.25,138.11 L57.50,138.02 L57.75,137.92 L58.00,137.83 L58.25,137.74 L58.50,137.64 L58.75,137.55 L59.00,137.45 L59.25,137.36 L59.50,137.26 L59.75,137.16 L60.00,137.06 L60.25,136.97 L60.50,136.87 L60.75,136.77 L61.00,136.66 L61.25,136.56 L61.50,136.46 L61.75,136.35 L62.00,136.24 L62.25,136.13 L62.50,136.01 L62.75,135.90 L63.00,135.78 L63.25,135.66 L63.50,135.54 L63.75,135.41 L64.00,135.29 L64.25,135.17 L64.50,135.04 L64.75,134.92 L65.00,134.80 L65.25,134.67 L65.50,134.55 L65.75,134.44 L66.00,134.32 L66.25,134.20 L66.50,134.09 L66.75,133.99 L67.00,133.88 L67.25,133.78 L67.50,133.68 L67.75,133.59 L68.00,133.50 L68.25,133.41 L68.50,133.33 L68.75,133.25 L69.00,133.17 L69.25,133.09 L69.50,133.01 L69.75,132.93 L70.00,132.86 L70.25,132.78 L70.50,132.71 L70.75,132.64 L71.00,132.58 L71.25,132.51 L71.50,132.45 L71.75,132.39 L72.00,132.33 L72.25,132.27 L72.50,132.22 L72.75,132.17 L73.00,132.11 L73.25,132.06 L73.50,132.00 L73.75,131.95 L74.00,131.90 L74.25,131.86 L74.50,131.83 L74.75,131.81 L75.00,131.80 L75.25,131.80 L75.50,131.81 L75.75,131.82 L76.00,131.84 L76.25,131.85 L76.50,131.88 L76.75,131.90 L77.00,131.92 L77.25,131.95 L77.50,131.98 L77.75,132.01 L78.00,132.04 L78.25,132.08 L78.50,132.12 L78.75,132.18 L79.00,132.23 L79.25,132.30 L79.50,132.37 L79.75,132.44 L80.00,132.52 L80.25,132.60 L80.50,132.69 L80.75,132.78 L81.00,132.87 L81.25,132.97 L81.50,133.07 L81.75,133.17 L82.00,133.27 L82.25,133.38 L82.50,133.49 L82.75,133.59 L83.00,133.70 L83.25,133.81 L83.50,133.92 L83.75,134.03 L84.00,134.14 L84.25,134.25 L84.50,134.36 L84.75,134.46 L85.00,134.57 L85.25,134.68 L85.50,134.80 L85.75,134.92 L86.00,135.04 L86.25,135.16 L86.50,135.28 L86.75,135.41 L87.00,135.54 L87.25,135.68 L87.50,135.82 L87.75,135.96 L88.00,136.11 L88.25,136.26 L88.50,136.41 L88.75,136.57 L89.00,136.73 L89.25,136.90 L89.50,137.07 L89.75,137.25 L90.00,137.43 L90.25,137.62 L90.50,137.81 L90.75,138.01 L91.00,138.21 L91.25,138.42 L91.50,138.63 L91.75,138.85 L92.00,139.07 L92.25,139.30 L92.50,139.53 L92.75,139.76 L93.00,140.00 L93.25,140.25 L93.50,140.49 L93.75,140.74 L94.00,141.00 L94.25,141.27 L94.50,141.55 L94.75,141.84 L95.00,142.15 L95.25,142.47 L95.50,142.79 L95.75,143.12 L96.00,143.46 L96.25,143.80 L96.50,144.14 L96.75,144.48 L97.00,144.81 L97.25,145.15 L97.50,145.47 L97.75,145.79 L98.00,146.11 L98.25,146.43 L98.50,146.74 L98.75,147.06 L99.00,147.38 L99.25,147.69 L99.50,148.01 L99.75,148.33 L100.00,148.64 L100.25,148.96 L100.50,149.28 L100.75,149.60 L101.00,149.92 L101.25,150.24 L101.50,150.56 L101.75,150.88 L102.00,151.20 L102.25,151.52 L102.50,151.85 L102.75,152.17 L103.00,152.49 L103.25,152.82 L103.50,153.15 L103.75,153.47 L104.00,153.80 L104.25,154.13 L104.50,154.47 L104.75,154.80 L105.00,155.14 L105.25,155.48 L105.50,155.82 L105.75,156.16 L106.00,156.51 L106.25,156.85 L106.50,157.20 L106.75,157.55 L107.00,157.90 L107.25,158.25 L107.50,158.59 L107.75,158.94 L108.00,159.29 L108.25,159.63 L108.50,159.98 L108.75,160.32 L109.00,160.66 L109.25,161.00 L109.50,161.33 L109.75,161.67 L110.00,162.00 L110.25,162.33 L110.50,162.65 L110.75,162.98 L111.00,163.31 L111.25,163.63 L111.50,163.96 L111.75,164.28 L112.00,164.60 L112.25,164.92 L112.50,165.24 L112.75,165.56 L113.00,165.88 L113.25,166.20 L113.50,166.51 L113.75,166.83 L114.00,167.15 L114.25,167.46 L114.50,167.78 L114.75,168.09 L115.00,168.41 L115.25,168.72 L115.50,169.04 L115.75,169.35 L116.00,169.66 L116.25,169.98 L116.50,170.29 L116.75,170.60 L117.00,170.92 L117.25,171.23 L117.50,171.54 L117.75,171.86 L118.00,172.17 L118.25,172.49 L118.50,172.80 L118.75,173.11 L119.00,173.43 L119.25,173.75 L119.50,174.06 L119.75,174.38 L120.00,174.70 L120.25,175.02 L120.50,175.34 L120.75,175.65 L121.00,175.97 L121.25,176.29 L121.50,176.61 L121.75,176.93 L122.00,177.24 L122.25,177.56 L122.50,177.87 L122.75,178.19 L123.00,178.50 L123.25,178.81 L123.50,179.13 L123.75,179.44 L124.00,179.75 L124.25,180.05 L124.50,180.36 L124.75,180.66 L125.00,180.96 L125.25,181.26 L125.50,181.56 L125.75,181.86 L126.00,182.15 L126.25,182.44 L126.50,182.73 L126.75,183.02 L127.00,183.31 L127.25,183.59 L127.50,183.88 L127.75,184.16 L128.00,184.45 L128.25,184.73 L128.50,185.01 L128.75,185.29 L129.00,185.57 L129.25,185.85 L129.50,186.13 L129.75,186.41 L130.00,186.68 L130.25,186.96 L130.50,187.23 L130.75,187.50 L131.00,187.77 L131.25,188.04 L131.50,188.31 L131.75,188.57 L132.00,188.84 L132.25,189.10 L132.50,189.37 L132.75,189.63 L133.00,189.89 L133.25,190.14 L133.50,190.40 L133.75,190.65 L134.00,190.91 L134.25,191.16 L134.50,191.41 L134.75,191.66 L135.00,191.90 L135.25,192.15 L135.50,192.39 L135.75,192.63 L136.00,192.87 L136.25,193.11 L136.50,193.35 L136.75,193.58 L137.00,193.82 L137.25,194.05 L137.50,194.28 L137.75,194.51 L138.00,194.74 L138.25,194.97 L138.50,195.20 L138.75,195.42 L139.00,195.65 L139.25,195.87 L139.50,196.09 L139.75,196.32 L140.00,196.54 L140.25,196.76 L140.50,196.97 L140.75,197.19 L141.00,197.41 L141.25,197.63 L141.50,197.84 L141.75,198.05 L142.00,198.27 L142.25,198.48 L142.50,198.69 L142.75,198.90 L143.00,199.11 L143.25,199.32 L143.50,199.53 L143.75,199.74 L144.00,199.95 L144.25,200.16 L144.50,200.37 L144.75,200.57 L145.00,200.78 L145.25,200.99 L145.50,201.20 L145.75,201.40 L146.00,201.61 L146.25,201.81 L146.50,202.02 L146.75,202.22 L147.00,202.43 L147.25,202.63 L147.50,202.83 L147.75,203.04 L148.00,203.24 L148.25,203.44 L148.50,203.63 L148.75,203.83 L149.00,204.03 L149.25,204.22 L149.50,204.42 L149.75,204.61 L150.00,204.80 L150.25,205.00 L150.50,205.18 L150.75,205.37 L151.00,205.56 L151.25,205.74 L151.50,205.93 L151.75,206.11 L152.00,206.29 L152.25,206.47 L152.50,206.64 L152.75,206.82 L153.00,206.99 L153.25,207.16 L153.50,207.33 L153.75,207.50 L154.00,207.67 L154.25,207.83 L154.50,208.00 L154.75,208.16 L155.00,208.32 L155.25,208.48 L155.50,208.64 L155.75,208.80 L156.00,208.96 L156.25,209.12 L156.50,209.28 L156.75,209.43 L157.00,209.59 L157.25,209.74 L157.50,209.89 L157.75,210.04 L158.00,210.19 L158.25,210.34 L158.50,210.49 L158.75,210.64 L159.00,210.79 L159.25,210.93 L159.50,211.08 L159.75,211.22 L160.00,211.36 L160.25,211.50 L160.50,211.64 L160.75,211.78 L161.00,211.92 L161.25,212.06 L161.50,212.19 L161.75,212.33 L162.00,212.46 L162.25,212.60 L162.50,212.73 L162.75,212.86 L163.00,212.99 L163.25,213.12 L163.50,213.25 L163.75,213.37 L164.00,213.50 L164.25,213.63 L164.50,213.75 L164.75,213.87 L165.00,214.00 L165.25,214.12 L165.50,214.24 L165.75,214.36 L166.00,214.48 L166.25,214.60 L166.50,214.72 L166.75,214.84 L167.00,214.96 L167.25,215.07 L167.50,215.19 L167.75,215.30 L168.00,215.42 L168.25,215.53 L168.50,215.65 L168.75,215.76 L169.00,215.87 L169.25,215.98 L169.50,216.09 L169.75,216.20 L170.00,216.31 L170.25,216.42 L170.50,216.53 L170.75,216.64 L171.00,216.74 L171.25,216.85 L171.50,216.95 L171.75,217.06 L172.00,217.16 L172.25,217.26 L172.50,217.36 L172.75,217.46 L173.00,217.56 L173.25,217.66 L173.50,217.76 L173.75,217.86 L174.00,217.96 L174.25,218.05 L174.50,218.15 L174.75,218.25 L175.00,218.34 L175.25,218.43 L175.50,218.53 L175.75,218.62 L176.00,218.71 L176.25,218.80 L176.50,218.89 L176.75,218.98 L177.00,219.07 L177.25,219.16 L177.50,219.25 L177.75,219.33 L178.00,219.42 L178.25,219.51 L178.50,219.59 L178.75,219.68 L179.00,219.76 L179.25,219.84 L179.50,219.93 L179.75,220.01 L180.00,220.09 L180.25,220.17 L180.50,220.26 L180.75,220.34 L181.00,220.42 L181.25,220.50 L181.50,220.58 L181.75,220.65 L182.00,220.73 L182.25,220.81 L182.50,220.89 L182.75,220.96 L183.00,221.04 L183.25,221.12 L183.50,221.19 L183.75,221.27 L184.00,221.34 L184.25,221.42 L184.50,221.49 L184.75,221.56 L185.00,221.64 L185.25,221.71 L185.50,221.78 L185.75,221.85 L186.00,221.92 L186.25,222.00 L186.50,222.07 L186.75,222.14 L187.00,222.21 L187.25,222.28 L187.50,222.34 L187.75,222.41 L188.00,222.48 L188.25,222.55 L188.50,222.62 L188.75,222.69 L189.00,222.75 L189.25,222.82 L189.50,222.89 L189.75,222.96 L190.00,223.02 L190.25,223.09 L190.50,223.16 L190.75,223.22 L191.00,223.29 L191.25,223.35 L191.50,223.42 L191.75,223.48 L192.00,223.55 L192.25,223.61 L192.50,223.67 L192.75,223.74 L193.00,223.80 L193.25,223.86 L193.50,223.93 L193.75,223.99 L194.00,224.05 L194.25,224.11 L194.50,224.17 L194.75,224.23 L195.00,224.29 L195.25,224.35 L195.50,224.41 L195.75,224.47 L196.00,224.53 L196.25,224.59 L196.50,224.64 L196.75,224.70 L197.00,224.76 L197.25,224.81 L197.50,224.87 L197.75,224.93 L198.00,224.98 L198.25,225.03 L198.50,225.09 L198.75,225.14 L199.00,225.19 L199.25,225.25 L199.50,225.30 L199.75,225.35 L200.00,225.40 L200.25,225.45 L200.50,225.50 L200.75,225.55 L201.00,225.60 L201.25,225.65 L201.50,225.70 L201.75,225.74 L202.00,225.79 L202.25,225.84 L202.50,225.89 L202.75,225.94 L203.00,225.98 L203.25,226.03 L203.50,226.08 L203.75,226.12 L204.00,226.17 L204.25,226.21 L204.50,226.26 L204.75,226.30 L205.00,226.35 L205.25,226.39 L205.50,226.44 L205.75,226.48 L206.00,226.53 L206.25,226.57 L206.50,226.61 L206.75,226.65 L207.00,226.70 L207.25,226.74 L207.50,226.78 L207.75,226.82 L208.00,226.86 L208.25,226.90 L208.50,226.94 L208.75,226.98 L209.00,227.02 L209.25,227.05 L209.50,227.09 L209.75,227.13 L210.00,227.16 L210.25,227.20 L210.50,227.24 L210.75,227.27 L211.00,227.30 L211.25,227.34 L211.50,227.37 L211.75,227.40 L212.00,227.44 L212.25,227.47 L212.50,227.50 L212.75,227.53 L213.00,227.56 L213.25,227.59 L213.50,227.62 L213.75,227.65 L214.00,227.68 L214.25,227.71 L214.50,227.74 L214.75,227.77 L215.00,227.80 L215.25,227.83 L215.50,227.86 L215.75,227.89 L216.00,227.92 L216.25,227.94 L216.50,227.97 L216.75,228.00 L217.00,228.03 L217.25,228.06 L217.50,228.09 L217.75,228.11 L218.00,228.14 L218.25,228.17 L218.50,228.20 L218.75,228.22 L219.00,228.25 L219.25,228.28 L219.50,228.30 L219.75,228.33 L220.00,228.35 L220.25,228.38 L220.50,228.41 L220.75,228.43 L221.00,228.46 L221.25,228.48 L221.50,228.51 L221.75,228.53 L222.00,228.56 L222.25,228.58 L222.50,228.61 L222.75,228.63 L223.00,228.66 L223.25,228.68 L223.50,228.70 L223.75,228.73 L224.00,228.75 L224.25,228.77 L224.50,228.80 L224.75,228.82 L225.00,228.84 L225.25,228.87 L225.50,228.89 L225.75,228.91 L226.00,228.93 L226.25,228.95 L226.50,228.98 L226.75,229.00 L227.00,229.02 L227.25,229.04 L227.50,229.06 L227.75,229.08 L228.00,229.10 L228.25,229.12 L228.50,229.14 L228.75,229.16 L229.00,229.18 L229.25,229.20 L229.50,229.22 L229.75,229.24 L230.00,229.26 L230.25,229.28 L230.50,229.30 L230.75,229.32 L231.00,229.33 L231.25,229.35 L231.50,229.37 L231.75,229.39 L232.00,229.41 L232.25,229.42 L232.50,229.44 L232.75,229.46 L233.00,229.47 L233.25,229.49 L233.50,229.51 L233.75,229.52 L234.00,229.54 L234.25,229.55 L234.50,229.57 L234.75,229.58 L235.00,229.60 L235.25,229.62 L235.50,229.63 L235.75,229.64 L236.00,229.66 L236.25,229.67 L236.50,229.69 L236.75,229.70 L237.00,229.72 L237.25,229.73 L237.50,229.75 L237.75,229.76 L238.00,229.78 L238.25,229.79 L238.50,229.80 L238.75,229.82 L239.00,229.83 L239.25,229.85 L239.50,229.86 L239.75,229.87 L240.00,229.89 L240.25,229.90 L240.50,229.92 L240.75,229.93 L241.00,229.94 L241.25,229.96 L241.50,229.97 L241.75,229.98 L242.00,230.00 L242.25,230.01 L242.50,230.02 L242.75,230.04 L243.00,230.05 L243.25,230.06 L243.50,230.07 L243.75,230.09 L244.00,230.10 L244.25,230.11 L244.50,230.12 L244.75,230.14 L245.00,230.15 L245.25,230.16 L245.50,230.17 L245.75,230.18 L246.00,230.20 L246.25,230.21 L246.50,230.22 L246.75,230.23 L247.00,230.24 L247.25,230.25 L247.50,230.27 L247.75,230.28 L248.00,230.29 L248.25,230.30 L248.50,230.31 L248.75,230.32 L249.00,230.33 L249.25,230.34 L249.50,230.35 L249.75,230.36 L250.00,230.37 L250.25,230.38 L250.50,230.39 L250.75,230.40 L251.00,230.41 L251.25,230.42 L251.50,230.43 L251.75,230.44 L252.00,230.45 L252.25,230.46 L252.50,230.47 L252.75,230.48 L253.00,230.49 L253.25,230.50 L253.50,230.51 L253.75,230.52 L254.00,230.53 L254.25,230.53 L254.50,230.54 L254.75,230.55 L255.00,230.56 L255.25,230.57 L255.50,230.58 L255.75,230.58 L256.00,230.59 L256.25,230.60 L256.50,230.61 L256.75,230.61 L257.00,230.62 L257.25,230.63 L257.50,230.64 L257.75,230.64 L258.00,230.65 L258.25,230.66 L258.50,230.66 L258.75,230.67 L259.00,230.68 L259.25,230.68 L259.50,230.69 L259.75,230.69 L260.00,230.70 L260.25,230.71 L260.50,230.71 L260.75,230.72 L261.00,230.72 L261.25,230.73 L261.50,230.73 L261.75,230.74 L262.00,230.75 L262.25,230.75 L262.50,230.76 L262.75,230.76 L263.00,230.77 L263.25,230.77 L263.50,230.78 L263.75,230.78 L264.00,230.79 L264.25,230.80 L264.50,230.80 L264.75,230.81 L265.00,230.81 L265.25,230.82 L265.50,230.82 L265.75,230.83 L266.00,230.83 L266.25,230.84 L266.50,230.84 L266.75,230.85 L267.00,230.85 L267.25,230.86 L267.50,230.86 L267.75,230.87 L268.00,230.87 L268.25,230.88 L268.50,230.88 L268.75,230.89 L269.00,230.89 L269.25,230.90 L269.50,230.90 L269.75,230.91 L270.00,230.91 L270.25,230.92 L270.50,230.92 L270.75,230.93 L271.00,230.93 L271.25,230.94 L271.50,230.94 L271.75,230.95 L272.00,230.95 L272.25,230.96 L272.50,230.96 L272.75,230.97 L273.00,230.97 L273.25,230.97 L273.50,230.98 L273.75,230.98 L274.00,230.99 L274.25,230.99 L274.50,231.00 L274.75,231.00 L275.00,231.01 L275.25,231.01 L275.50,231.01 L275.75,231.02 L276.00,231.02 L276.25,231.03 L276.50,231.03 L276.75,231.04 L277.00,231.04 L277.25,231.04 L277.50,231.05 L277.75,231.05 L278.00,231.06 L278.25,231.06 L278.50,231.06 L278.75,231.07 L279.00,231.07 L279.25,231.08 L279.50,231.08 L279.75,231.08 L280.00,231.09 L280.25,231.09 L280.50,231.09 L280.75,231.10 L281.00,231.10 L281.25,231.11 L281.50,231.11 L281.75,231.11 L282.00,231.12 L282.25,231.12 L282.50,231.12 L282.75,231.13 L283.00,231.13 L283.25,231.13 L283.50,231.14 L283.75,231.14 L284.00,231.14 L284.25,231.15 L284.50,231.15 L284.75,231.15 L285.00,231.16 L285.25,231.16 L285.50,231.16 L285.75,231.17 L286.00,231.17 L286.25,231.17 L286.50,231.18 L286.75,231.18 L287.00,231.18 L287.25,231.19 L287.50,231.19 L287.75,231.19 L288.00,231.19 L288.25,231.20 L288.50,231.20 L288.75,231.20 L289.00,231.21 L289.25,231.21 L289.50,231.21 L289.75,231.21 L290.00,231.22 L290.25,231.22 L290.50,231.22 L290.75,231.22 L291.00,231.23 L291.25,231.23 L291.50,231.23 L291.75,231.23 L292.00,231.24 L292.25,231.24 L292.50,231.24 L292.75,231.24 L293.00,231.25 L293.25,231.25 L293.50,231.25 L293.75,231.25 L294.00,231.26 L294.25,231.26 L294.50,231.26 L294.75,231.26 L295.00,231.26 L295.25,231.27 L295.50,231.27 L295.75,231.27 L296.00,231.27 L296.25,231.27 L296.50,231.28 L296.75,231.28 L297.00,231.28 L297.25,231.28 L297.50,231.28 L297.75,231.29 L298.00,231.29 L298.25,231.29 L298.50,231.29 L298.75,231.29 L299.00,231.29 L299.25,231.30 L299.50,231.30 L299.75,231.30 L300.00,231.30 L300.25,231.30 L300.50,231.30 L300.75,231.30 L301.00,231.31 L301.25,231.31 L301.50,231.31 L301.75,231.31 L302.00,231.31 L302.25,231.31 L302.50,231.31 L302.75,231.32 L303.00,231.32 L303.25,231.32 L303.50,231.32 L303.75,231.32 L304.00,231.32 L304.25,231.32 L304.50,231.33 L304.75,231.33 L305.00,231.33 L305.25,231.33 L305.50,231.33 L305.75,231.33 L306.00,231.33 L306.25,231.34 L306.50,231.34 L306.75,231.34 L307.00,231.34 L307.25,231.34 L307.50,231.34 L307.75,231.34 L308.00,231.35 L308.25,231.35 L308.50,231.35 L308.75,231.35 L309.00,231.35 L309.25,231.35 L309.50,231.35 L309.75,231.35 L310.00,231.36 L310.25,231.36 L310.50,231.36 L310.75,231.36 L311.00,231.36 L311.25,231.36 L311.50,231.36 L311.75,231.37 L312.00,231.37 L312.25,231.37 L312.50,231.37 L312.75,231.37 L313.00,231.37 L313.25,231.37 L313.50,231.37 L313.75,231.38 L314.00,231.38 L314.25,231.38 L314.50,231.38 L314.75,231.38 L315.00,231.38 L315.25,231.38 L315.50,231.38 L315.75,231.39 L316.00,231.39 L316.25,231.39 L316.50,231.39 L316.75,231.39 L317.00,231.39 L317.25,231.39 L317.50,231.39 L317.75,231.40 L318.00,231.40 L318.25,231.40 L318.50,231.40 L318.75,231.40 L319.00,231.40 L319.25,231.40 L319.50,231.40 L319.75,231.40 L320.00,231.41 L320.25,231.41 L320.50,231.41 L320.75,231.41 L321.00,231.41 L321.25,231.41 L321.50,231.41 L321.75,231.41 L322.00,231.41 L322.25,231.42 L322.50,231.42 L322.75,231.42 L323.00,231.42 L323.25,231.42 L323.50,231.42 L323.75,231.42 L324.00,231.42 L324.25,231.42 L324.50,231.43 L324.75,231.43 L325.00,231.43 L325.25,231.43 L325.50,231.43 L325.75,231.43 L326.00,231.43 L326.25,231.43 L326.50,231.43 L326.75,231.43 L327.00,231.44 L327.25,231.44 L327.50,231.44 L327.75,231.44 L328.00,231.44 L328.25,231.44 L328.50,231.44 L328.75,231.44 L329.00,231.44 L329.25,231.44 L329.50,231.44 L329.75,231.45 L330.00,231.45 L330.25,231.45 L330.50,231.45 L330.75,231.45 L331.00,231.45 L331.25,231.45 L331.50,231.45 L331.75,231.45 L332.00,231.45 L332.25,231.45 L332.50,231.46 L332.75,231.46 L333.00,231.46 L333.25,231.46 L333.50,231.46 L333.75,231.46 L334.00,231.46 L334.25,231.46 L334.50,231.46 L334.75,231.46 L335.00,231.46 L335.25,231.46 L335.50,231.47 L335.75,231.47 L336.00,231.47 L336.25,231.47 L336.50,231.47 L336.75,231.47 L337.00,231.47 L337.25,231.47 L337.50,231.47 L337.75,231.47 L338.00,231.47 L338.25,231.47 L338.50,231.47 L338.75,231.47 L339.00,231.47 L339.25,231.48 L339.50,231.48 L339.75,231.48 L340.00,231.48 L340.25,231.48 L340.50,231.48 L340.75,231.48 L341.00,231.48 L341.25,231.48 L341.50,231.48 L341.75,231.48 L342.00,231.48 L342.25,231.48 L342.50,231.48 L342.75,231.48 L343.00,231.48 L343.25,231.48 L343.50,231.49 L343.75,231.49 L344.00,231.49 L344.25,231.49 L344.50,231.49 L344.75,231.49 L345.00,231.49 L345.25,231.49 L345.50,231.49 L345.75,231.49 L346.00,231.49 L346.25,231.49 L346.50,231.49 L346.75,231.49 L347.00,231.49 L347.25,231.49 L347.50,231.49 L347.75,231.49 L348.00,231.49 L348.25,231.49 L348.50,231.49 L348.75,231.49 L349.00,231.49 L349.25,231.49 L349.50,231.50 L349.75,231.50 L350.00,231.50 L350.25,231.50 L350.50,231.50 L350.75,231.50 L351.00,231.50 L351.25,231.50 L351.50,231.50 L351.75,231.50 L352.00,231.50 L352.25,231.50 L352.50,231.50 L352.75,231.50 L353.00,231.50 L353.25,231.50 L353.50,231.50 L353.75,231.50 L354.00,231.50 L354.25,231.50 L354.50,231.50 L354.75,231.50 L355.00,231.50 L355.25,231.50 L355.50,231.50 L355.75,231.50 L356.00,231.50 L356.25,231.50 L356.50,231.50 L356.75,231.50 L357.00,231.50 L357.25,231.50 L357.50,231.50" fill="none" stroke="#ff0000" stroke-width="2.05" stroke-dasharray="5.3 7.11" stroke-dashoffset="0.00" stroke-linejoin="round"/>
<path d="M13.00,95.90 L13.25,95.87 L13.50,95.84 L13.75,95.81 L14.00,95.77 L14.25,95.74 L14.50,95.70 L14.75,95.66 L15.00,95.62 L15.25,95.59 L15.50,95.55 L15.75,95.51 L16.00,95.47 L16.25,95.43 L16.50,95.39 L16.75,95.35 L17.00,95.31 L17.25,95.27 L17.50,95.22 L17.75,95.18 L18.00,95.13 L18.25,95.09 L18.50,95.04 L18.75,94.99 L19.00,94.94 L19.25,94.89 L19.50,94.83 L19.75,94.77 L20.00,94.71 L20.25,94.65 L20.50,94.59 L20.75,94.52 L21.00,94.46 L21.25,94.39 L21.50,94.31 L21.75,94.23 L22.00,94.14 L22.25,94.04 L22.50,93.94 L22.75,93.83 L23.00,93.72 L23.25,93.60 L23.50,93.48 L23.75,93.35 L24.00,93.22 L24.25,93.08 L24.50,92.94 L24.75,92.79 L25.00,92.65 L25.25,92.50 L25.50,92.34 L25.75,92.18 L26.00,92.03 L26.25,91.86 L26.50,91.70 L26.75,91.54 L27.00,91.37 L27.25,91.20 L27.50,91.03 L27.75,90.86 L28.00,90.68 L28.25,90.50 L28.50,90.31 L28.75,90.11 L29.00,89.91 L29.25,89.70 L29.50,89.49 L29.75,89.28 L30.00,89.05 L30.25,88.83 L30.50,88.59 L30.75,88.36 L31.00,88.11 L31.25,87.86 L31.50,87.61 L31.75,87.34 L32.00,87.08 L32.25,86.80 L32.50,86.53 L32.75,86.24 L33.00,85.95 L33.25,85.64 L33.50,85.31 L33.75,84.98 L34.00,84.63 L34.25,84.27 L34.50,83.90 L34.75,83.52 L35.00,83.13 L35.25,82.74 L35.50,82.33 L35.75,81.92 L36.00,81.51 L36.25,81.09 L36.50,80.66 L36.75,80.23 L37.00,79.80 L37.25,79.36 L37.50,78.92 L37.75,78.48 L38.00,78.02 L38.25,77.56 L38.50,77.08 L38.75,76.59 L39.00,76.09 L39.25,75.57 L39.50,75.03 L39.75,74.47 L40.00,73.88 L40.25,73.28 L40.50,72.62 L40.75,71.91 L41.00,71.15 L41.25,70.34 L41.50,69.51 L41.75,68.64 L42.00,67.76 L42.25,66.86 L42.50,65.96 L42.75,65.06 L43.00,64.17 L43.25,63.30 L43.50,62.45 L43.75,61.63 L44.00,60.85 L44.25,60.12 L44.50,59.43 L44.75,58.75 L45.00,58.08 L45.25,57.42 L45.50,56.77 L45.75,56.14 L46.00,55.53 L46.25,54.94 L46.50,54.39 L46.75,53.88 L47.00,53.41 L47.25,52.98 L47.50,52.61 L47.75,52.28 L48.00,52.00 L48.00,52.00 L48.25,52.14 L48.50,52.34 L48.75,52.59 L49.00,52.88 L49.25,53.20 L49.50,53.55 L49.75,53.93 L50.00,54.38 L50.25,54.91 L50.50,55.50 L50.75,56.15 L51.00,56.87 L51.25,57.69 L51.50,58.68 L51.75,59.81 L52.00,61.03 L52.25,62.28 L52.50,63.52 L52.75,64.72 L53.00,65.96 L53.25,67.23 L53.50,68.51 L53.75,69.77 L54.00,71.00 L54.25,72.19 L54.50,73.35 L54.75,74.49 L55.00,75.64 L55.25,76.81 L55.50,78.00 L55.75,79.23 L56.00,80.50 L56.25,81.78 L56.50,83.07 L56.75,84.34 L57.00,85.60 L57.25,86.85 L57.50,88.10 L57.75,89.34 L58.00,90.55 L58.25,91.72 L58.50,92.84 L58.75,93.92 L59.00,94.96 L59.25,95.97 L59.50,96.97 L59.75,97.95 L60.00,98.92 L60.25,99.89 L60.50,100.85 L60.75,101.79 L61.00,102.72 L61.25,103.64 L61.50,104.55 L61.75,105.47 L62.00,106.40 L62.25,107.35 L62.50,108.32 L62.75,109.29 L63.00,110.26 L63.25,111.21 L63.50,112.13 L63.75,113.00 L64.00,113.82 L64.25,114.59 L64.50,115.33 L64.75,116.05 L65.00,116.74 L65.25,117.42 L65.50,118.09 L65.75,118.77 L66.00,119.45 L66.25,120.14 L66.50,120.84 L66.75,121.54 L67.00,122.24 L67.25,122.95 L67.50,123.65 L67.75,124.35 L68.00,125.05 L68.25,125.74 L68.50,126.44 L68.75,127.13 L69.00,127.81 L69.25,128.49 L69.50,129.17 L69.75,129.84 L70.00,130.50 L70.25,131.16 L70.50,131.83 L70.75,132.50 L71.00,133.17 L71.25,133.84 L71.50,134.50 L71.75,135.15 L72.00,135.80 L72.25,136.43 L72.50,137.05 L72.75,137.64 L73.00,138.22 L73.25,138.78 L73.50,139.31 L73.75,139.82 L74.00,140.31 L74.25,140.79 L74.50,141.26 L74.75,141.71 L75.00,142.16 L75.25,142.59 L75.50,143.02 L75.75,143.44 L76.00,143.87 L76.25,144.29 L76.50,144.71 L76.75,145.13 L77.00,145.56 L77.25,146.00 L77.50,146.44 L77.75,146.89 L78.00,147.35 L78.25,147.81 L78.50,148.27 L78.75,148.74 L79.00,149.20 L79.25,149.67 L79.50,150.14 L79.75,150.60 L80.00,151.07 L80.25,151.53 L80.50,152.00 L80.75,152.46 L81.00,152.92 L81.25,153.37 L81.50,153.83 L81.75,154.28 L82.00,154.73 L82.25,155.17 L82.50,155.62 L82.75,156.07 L83.00,156.51 L83.25,156.96 L83.50,157.41 L83.75,157.85 L84.00,158.31 L84.25,158.76 L84.50,159.22 L84.75,159.68 L85.00,160.15 L85.25,160.63 L85.50,161.12 L85.75,161.61 L86.00,162.10 L86.25,162.59 L86.50,163.08 L86.75,163.56 L87.00,164.04 L87.25,164.50 L87.50,164.95 L87.75,165.38 L88.00,165.80 L88.25,166.20 L88.50,166.59 L88.75,166.97 L89.00,167.34 L89.25,167.71 L89.50,168.07 L89.75,168.42 L90.00,168.77 L90.25,169.11 L90.50,169.45 L90.75,169.79 L91.00,170.13 L91.25,170.46 L91.50,170.80 L91.75,171.14 L92.00,171.48 L92.25,171.83 L92.50,172.18 L92.75,172.53 L93.00,172.89 L93.25,173.24 L93.50,173.59 L93.75,173.95 L94.00,174.30 L94.25,174.65 L94.50,175.00 L94.75,175.35 L95.00,175.70 L95.25,176.04 L95.50,176.38 L95.75,176.72 L96.00,177.05 L96.25,177.38 L96.50,177.70 L96.75,178.02 L97.00,178.33 L97.25,178.65 L97.50,178.96 L97.75,179.26 L98.00,179.57 L98.25,179.87 L98.50,180.17 L98.75,180.46 L99.00,180.76 L99.25,181.05 L99.50,181.35 L99.75,181.64 L100.00,181.93 L100.25,182.22 L100.50,182.51 L100.75,182.80 L101.00,183.09 L101.25,183.38 L101.50,183.67 L101.75,183.96 L102.00,184.25 L102.25,184.54 L102.50,184.82 L102.75,185.11 L103.00,185.40 L103.25,185.68 L103.50,185.97 L103.75,186.25 L104.00,186.53 L104.25,186.82 L104.50,187.10 L104.75,187.38 L105.00,187.67 L105.25,187.95 L105.50,188.23 L105.75,188.52 L106.00,188.80 L106.25,189.09 L106.50,189.38 L106.75,189.67 L107.00,189.96 L107.25,190.26 L107.50,190.55 L107.75,190.85 L108.00,191.14 L108.25,191.44 L108.50,191.73 L108.75,192.02 L109.00,192.32 L109.25,192.60 L109.50,192.89 L109.75,193.17 L110.00,193.45 L110.25,193.72 L110.50,193.98 L110.75,194.25 L111.00,194.50 L111.25,194.75 L111.50,194.99 L111.75,195.23 L112.00,195.47 L112.25,195.70 L112.50,195.92 L112.75,196.15 L113.00,196.37 L113.25,196.59 L113.50,196.81 L113.75,197.02 L114.00,197.24 L114.25,197.45 L114.50,197.66 L114.75,197.87 L115.00,198.09 L115.25,198.30 L115.50,198.51 L115.75,198.72 L116.00,198.94 L116.25,199.16 L116.50,199.38 L116.75,199.60 L117.00,199.82 L117.25,200.04 L117.50,200.26 L117.75,200.48 L118.00,200.70 L118.25,200.93 L118.50,201.15 L118.75,201.37 L119.00,201.59 L119.25,201.81 L119.50,202.02 L119.75,202.24 L120.00,202.45 L120.25,202.66 L120.50,202.87 L120.75,203.08 L121.00,203.28 L121.25,203.48 L121.50,203.68 L121.75,203.87 L122.00,204.07 L122.25,204.26 L122.50,204.45 L122.75,204.63 L123.00,204.82 L123.25,205.00 L123.50,205.19 L123.75,205.37 L124.00,205.55 L124.25,205.73 L124.50,205.91 L124.75,206.08 L125.00,206.26 L125.25,206.43 L125.50,206.61 L125.75,206.78 L126.00,206.95 L126.25,207.12 L126.50,207.29 L126.75,207.46 L127.00,207.63 L127.25,207.80 L127.50,207.97 L127.75,208.14 L128.00,208.30 L128.25,208.47 L128.50,208.64 L128.75,208.80 L129.00,208.97 L129.25,209.14 L129.50,209.30 L129.75,209.46 L130.00,209.63 L130.25,209.79 L130.50,209.95 L130.75,210.11 L131.00,210.27 L131.25,210.42 L131.50,210.58 L131.75,210.73 L132.00,210.88 L132.25,211.03 L132.50,211.18 L132.75,211.33 L133.00,211.47 L133.25,211.62 L133.50,211.76 L133.75,211.89 L134.00,212.03 L134.25,212.17 L134.50,212.30 L134.75,212.44 L135.00,212.57 L135.25,212.70 L135.50,212.83 L135.75,212.96 L136.00,213.09 L136.25,213.21 L136.50,213.34 L136.75,213.46 L137.00,213.59 L137.25,213.71 L137.50,213.83 L137.75,213.95 L138.00,214.07 L138.25,214.19 L138.50,214.31 L138.75,214.43 L139.00,214.55 L139.25,214.66 L139.50,214.78 L139.75,214.89 L140.00,215.01 L140.25,215.12 L140.50,215.24 L140.75,215.35 L141.00,215.46 L141.25,215.57 L141.50,215.68 L141.75,215.79 L142.00,215.90 L142.25,216.01 L142.50,216.12 L142.75,216.22 L143.00,216.33 L143.25,216.43 L143.50,216.54 L143.75,216.64 L144.00,216.75 L144.25,216.85 L144.50,216.95 L144.75,217.05 L145.00,217.16 L145.25,217.26 L145.50,217.36 L145.75,217.46 L146.00,217.56 L146.25,217.66 L146.50,217.76 L146.75,217.86 L147.00,217.96 L147.25,218.06 L147.50,218.16 L147.75,218.26 L148.00,218.36 L148.25,218.46 L148.50,218.55 L148.75,218.65 L149.00,218.75 L149.25,218.85 L149.50,218.95 L149.75,219.04 L150.00,219.14 L150.25,219.24 L150.50,219.33 L150.75,219.43 L151.00,219.52 L151.25,219.62 L151.50,219.71 L151.75,219.80 L152.00,219.89 L152.25,219.98 L152.50,220.08 L152.75,220.17 L153.00,220.25 L153.25,220.34 L153.50,220.43 L153.75,220.52 L154.00,220.60 L154.25,220.69 L154.50,220.77 L154.75,220.86 L155.00,220.94 L155.25,221.03 L155.50,221.11 L155.75,221.20 L156.00,221.28 L156.25,221.36 L156.50,221.44 L156.75,221.52 L157.00,221.61 L157.25,221.69 L157.50,221.76 L157.75,221.84 L158.00,221.92 L158.25,222.00 L158.50,222.07 L158.75,222.15 L159.00,222.23 L159.25,222.30 L159.50,222.37 L159.75,222.44 L160.00,222.52 L160.25,222.59 L160.50,222.66 L160.75,222.72 L161.00,222.79 L161.25,222.86 L161.50,222.93 L161.75,223.00 L162.00,223.06 L162.25,223.13 L162.50,223.19 L162.75,223.26 L163.00,223.32 L163.25,223.39 L163.50,223.45 L163.75,223.51 L164.00,223.57 L164.25,223.64 L164.50,223.70 L164.75,223.76 L165.00,223.82 L165.25,223.88 L165.50,223.94 L165.75,224.00 L166.00,224.05 L166.25,224.11 L166.50,224.17 L166.75,224.22 L167.00,224.28 L167.25,224.34 L167.50,224.39 L167.75,224.45 L168.00,224.50 L168.25,224.55 L168.50,224.61 L168.75,224.66 L169.00,224.71 L169.25,224.76 L169.50,224.81 L169.75,224.86 L170.00,224.91 L170.25,224.96 L170.50,225.01 L170.75,225.06 L171.00,225.11 L171.25,225.16 L171.50,225.21 L171.75,225.25 L172.00,225.30 L172.25,225.35 L172.50,225.39 L172.75,225.44 L173.00,225.48 L173.25,225.53 L173.50,225.57 L173.75,225.62 L174.00,225.66 L174.25,225.70 L174.50,225.75 L174.75,225.79 L175.00,225.83 L175.25,225.88 L175.50,225.92 L175.75,225.96 L176.00,226.00 L176.25,226.05 L176.50,226.09 L176.75,226.13 L177.00,226.17 L177.25,226.21 L177.50,226.25 L177.75,226.29 L178.00,226.33 L178.25,226.37 L178.50,226.41 L178.75,226.45 L179.00,226.49 L179.25,226.53 L179.50,226.57 L179.75,226.61 L180.00,226.64 L180.25,226.68 L180.50,226.72 L180.75,226.76 L181.00,226.79 L181.25,226.83 L181.50,226.86 L181.75,226.90 L182.00,226.93 L182.25,226.97 L182.50,227.00 L182.75,227.03 L183.00,227.07 L183.25,227.10 L183.50,227.13 L183.75,227.16 L184.00,227.19 L184.25,227.22 L184.50,227.26 L184.75,227.29 L185.00,227.32 L185.25,227.35 L185.50,227.38 L185.75,227.40 L186.00,227.43 L186.25,227.46 L186.50,227.49 L186.75,227.52 L187.00,227.55 L187.25,227.58 L187.50,227.60 L187.75,227.63 L188.00,227.66 L188.25,227.69 L188.50,227.71 L188.75,227.74 L189.00,227.77 L189.25,227.80 L189.50,227.82 L189.75,227.85 L190.00,227.88 L190.25,227.91 L190.50,227.93 L190.75,227.96 L191.00,227.99 L191.25,228.01 L191.50,228.04 L191.75,228.07 L192.00,228.09 L192.25,228.12 L192.50,228.15 L192.75,228.17 L193.00,228.20 L193.25,228.23 L193.50,228.25 L193.75,228.28 L194.00,228.30 L194.25,228.33 L194.50,228.35 L194.75,228.38 L195.00,228.40 L195.25,228.43 L195.50,228.45 L195.75,228.48 L196.00,228.50 L196.25,228.52 L196.50,228.55 L196.75,228.57 L197.00,228.59 L197.25,228.61 L197.50,228.64 L197.75,228.66 L198.00,228.68 L198.25,228.70 L198.50,228.72 L198.75,228.74 L199.00,228.76 L199.25,228.78 L199.50,228.80 L199.75,228.83 L200.00,228.85 L200.25,228.87 L200.50,228.89 L200.75,228.91 L201.00,228.92 L201.25,228.94 L201.50,228.96 L201.75,228.98 L202.00,229.00 L202.25,229.02 L202.50,229.04 L202.75,229.06 L203.00,229.07 L203.25,229.09 L203.50,229.11 L203.75,229.13 L204.00,229.15 L204.25,229.16 L204.50,229.18 L204.75,229.20 L205.00,229.21 L205.25,229.23 L205.50,229.25 L205.75,229.26 L206.00,229.28 L206.25,229.29 L206.50,229.31 L206.75,229.33 L207.00,229.34 L207.25,229.36 L207.50,229.37 L207.75,229.39 L208.00,229.40 L208.25,229.42 L208.50,229.43 L208.75,229.45 L209.00,229.46 L209.25,229.47 L209.50,229.49 L209.75,229.50 L210.00,229.52 L210.25,229.53 L210.50,229.54 L210.75,229.56 L211.00,229.57 L211.25,229.58 L211.50,229.59 L211.75,229.61 L212.00,229.62 L212.25,229.63 L212.50,229.65 L212.75,229.66 L213.00,229.67 L213.25,229.68 L213.50,229.70 L213.75,229.71 L214.00,229.72 L214.25,229.74 L214.50,229.75 L214.75,229.76 L215.00,229.77 L215.25,229.79 L215.50,229.80 L215.75,229.81 L216.00,229.82 L216.25,229.84 L216.50,229.85 L216.75,229.86 L217.00,229.87 L217.25,229.89 L217.50,229.90 L217.75,229.91 L218.00,229.92 L218.25,229.94 L218.50,229.95 L218.75,229.96 L219.00,229.97 L219.25,229.99 L219.50,230.00 L219.75,230.01 L220.00,230.02 L220.25,230.03 L220.50,230.05 L220.75,230.06 L221.00,230.07 L221.25,230.08 L221.50,230.09 L221.75,230.10 L222.00,230.12 L222.25,230.13 L222.50,230.14 L222.75,230.15 L223.00,230.16 L223.25,230.17 L223.50,230.18 L223.75,230.20 L224.00,230.21 L224.25,230.22 L224.50,230.23 L224.75,230.24 L225.00,230.25 L225.25,230.26 L225.50,230.27 L225.75,230.28 L226.00,230.29 L226.25,230.30 L226.50,230.31 L226.75,230.32 L227.00,230.33 L227.25,230.34 L227.50,230.35 L227.75,230.36 L228.00,230.37 L228.25,230.38 L228.50,230.39 L228.75,230.40 L229.00,230.41 L229.25,230.42 L229.50,230.43 L229.75,230.44 L230.00,230.45 L230.25,230.46 L230.50,230.46 L230.75,230.47 L231.00,230.48 L231.25,230.49 L231.50,230.50 L231.75,230.51 L232.00,230.51 L232.25,230.52 L232.50,230.53 L232.75,230.54 L233.00,230.55 L233.25,230.55 L233.50,230.56 L233.75,230.57 L234.00,230.57 L234.25,230.58 L234.50,230.59 L234.75,230.59 L235.00,230.60 L235.25,230.61 L235.50,230.61 L235.75,230.62 L236.00,230.63 L236.25,230.63 L236.50,230.64 L236.75,230.64 L237.00,230.65 L237.25,230.66 L237.50,230.66 L237.75,230.67 L238.00,230.67 L238.25,230.68 L238.50,230.69 L238.75,230.69 L239.00,230.70 L239.25,230.70 L239.50,230.71 L239.75,230.72 L240.00,230.72 L240.25,230.73 L240.50,230.73 L240.75,230.74 L241.00,230.75 L241.25,230.75 L241.50,230.76 L241.75,230.76 L242.00,230.77 L242.25,230.77 L242.50,230.78 L242.75,230.79 L243.00,230.79 L243.25,230.80 L243.50,230.80 L243.75,230.81 L244.00,230.81 L244.25,230.82 L244.50,230.82 L244.75,230.83 L245.00,230.83 L245.25,230.84 L245.50,230.85 L245.75,230.85 L246.00,230.86 L246.25,230.86 L246.50,230.87 L246.75,230.87 L247.00,230.88 L247.25,230.88 L247.50,230.89 L247.75,230.89 L248.00,230.90 L248.25,230.90 L248.50,230.91 L248.75,230.91 L249.00,230.92 L249.25,230.92 L249.50,230.93 L249.75,230.93 L250.00,230.94 L250.25,230.94 L250.50,230.95 L250.75,230.95 L251.00,230.96 L251.25,230.96 L251.50,230.96 L251.75,230.97 L252.00,230.97 L252.25,230.98 L252.50,230.98 L252.75,230.99 L253.00,230.99 L253.25,231.00 L253.50,231.00 L253.75,231.00 L254.00,231.01 L254.25,231.01 L254.50,231.02 L254.75,231.02 L255.00,231.03 L255.25,231.03 L255.50,231.03 L255.75,231.04 L256.00,231.04 L256.25,231.05 L256.50,231.05 L256.75,231.05 L257.00,231.06 L257.25,231.06 L257.50,231.06 L257.75,231.07 L258.00,231.07 L258.25,231.08 L258.50,231.08 L258.75,231.08 L259.00,231.09 L259.25,231.09 L259.50,231.09 L259.75,231.10 L260.00,231.10 L260.25,231.10 L260.50,231.11 L260.75,231.11 L261.00,231.11 L261.25,231.12 L261.50,231.12 L261.75,231.12 L262.00,231.13 L262.25,231.13 L262.50,231.13 L262.75,231.13 L263.00,231.14 L263.25,231.14 L263.50,231.14 L263.75,231.15 L264.00,231.15 L264.25,231.15 L264.50,231.15 L264.75,231.16 L265.00,231.16 L265.25,231.16 L265.50,231.16 L265.75,231.17 L266.00,231.17 L266.25,231.17 L266.50,231.17 L266.75,231.18 L267.00,231.18 L267.25,231.18 L267.50,231.18 L267.75,231.18 L268.00,231.19 L268.25,231.19 L268.50,231.19 L268.75,231.19 L269.00,231.19 L269.25,231.20 L269.50,231.20 L269.75,231.20 L270.00,231.20 L270.25,231.20 L270.50,231.20 L270.75,231.20 L271.00,231.21 L271.25,231.21 L271.50,231.21 L271.75,231.21 L272.00,231.21 L272.25,231.21 L272.50,231.22 L272.75,231.22 L273.00,231.22 L273.25,231.22 L273.50,231.22 L273.75,231.22 L274.00,231.22 L274.25,231.23 L274.50,231.23 L274.75,231.23 L275.00,231.23 L275.25,231.23 L275.50,231.23 L275.75,231.24 L276.00,231.24 L276.25,231.24 L276.50,231.24 L276.75,231.24 L277.00,231.24 L277.25,231.24 L277.50,231.25 L277.75,231.25 L278.00,231.25 L278.25,231.25 L278.50,231.25 L278.75,231.25 L279.00,231.25 L279.25,231.26 L279.50,231.26 L279.75,231.26 L280.00,231.26 L280.25,231.26 L280.50,231.26 L280.75,231.26 L281.00,231.27 L281.25,231.27 L281.50,231.27 L281.75,231.27 L282.00,231.27 L282.25,231.27 L282.50,231.27 L282.75,231.28 L283.00,231.28 L283.25,231.28 L283.50,231.28 L283.75,231.28 L284.00,231.28 L284.25,231.28 L284.50,231.29 L284.75,231.29 L285.00,231.29 L285.25,231.29 L285.50,231.29 L285.75,231.29 L286.00,231.29 L286.25,231.30 L286.50,231.30 L286.75,231.30 L287.00,231.30 L287.25,231.30 L287.50,231.30 L287.75,231.30 L288.00,231.30 L288.25,231.31 L288.50,231.31 L288.75,231.31 L289.00,231.31 L289.25,231.31 L289.50,231.31 L289.75,231.31 L290.00,231.32 L290.25,231.32 L290.50,231.32 L290.75,231.32 L291.00,231.32 L291.25,231.32 L291.50,231.32 L291.75,231.32 L292.00,231.33 L292.25,231.33 L292.50,231.33 L292.75,231.33 L293.00,231.33 L293.25,231.33 L293.50,231.33 L293.75,231.33 L294.00,231.34 L294.25,231.34 L294.50,231.34 L294.75,231.34 L295.00,231.34 L295.25,231.34 L295.50,231.34 L295.75,231.34 L296.00,231.34 L296.25,231.35 L296.50,231.35 L296.75,231.35 L297.00,231.35 L297.25,231.35 L297.50,231.35 L297.75,231.35 L298.00,231.35 L298.25,231.36 L298.50,231.36 L298.75,231.36 L299.00,231.36 L299.25,231.36 L299.50,231.36 L299.75,231.36 L300.00,231.36 L300.25,231.36 L300.50,231.37 L300.75,231.37 L301.00,231.37 L301.25,231.37 L301.50,231.37 L301.75,231.37 L302.00,231.37 L302.25,231.37 L302.50,231.37 L302.75,231.38 L303.00,231.38 L303.25,231.38 L303.50,231.38 L303.75,231.38 L304.00,231.38 L304.25,231.38 L304.50,231.38 L304.75,231.38 L305.00,231.39 L305.25,231.39 L305.50,231.39 L305.75,231.39 L306.00,231.39 L306.25,231.39 L306.50,231.39 L306.75,231.39 L307.00,231.39 L307.25,231.39 L307.50,231.40 L307.75,231.40 L308.00,231.40 L308.25,231.40 L308.50,231.40 L308.75,231.40 L309.00,231.40 L309.25,231.40 L309.50,231.40 L309.75,231.40 L310.00,231.41 L310.25,231.41 L310.50,231.41 L310.75,231.41 L311.00,231.41 L311.25,231.41 L311.50,231.41 L311.75,231.41 L312.00,231.41 L312.25,231.41 L312.50,231.41 L312.75,231.42 L313.00,231.42 L313.25,231.42 L313.50,231.42 L313.75,231.42 L314.00,231.42 L314.25,231.42 L314.50,231.42 L314.75,231.42 L315.00,231.42 L315.25,231.42 L315.50,231.43 L315.75,231.43 L316.00,231.43 L316.25,231.43 L316.50,231.43 L316.75,231.43 L317.00,231.43 L317.25,231.43 L317.50,231.43 L317.75,231.43 L318.00,231.43 L318.25,231.43 L318.50,231.44 L318.75,231.44 L319.00,231.44 L319.25,231.44 L319.50,231.44 L319.75,231.44 L320.00,231.44 L320.25,231.44 L320.50,231.44 L320.75,231.44 L321.00,231.44 L321.25,231.44 L321.50,231.44 L321.75,231.45 L322.00,231.45 L322.25,231.45 L322.50,231.45 L322.75,231.45 L323.00,231.45 L323.25,231.45 L323.50,231.45 L323.75,231.45 L324.00,231.45 L324.25,231.45 L324.50,231.45 L324.75,231.45 L325.00,231.45 L325.25,231.46 L325.50,231.46 L325.75,231.46 L326.00,231.46 L326.25,231.46 L326.50,231.46 L326.75,231.46 L327.00,231.46 L327.25,231.46 L327.50,231.46 L327.75,231.46 L328.00,231.46 L328.25,231.46 L328.50,231.46 L328.75,231.46 L329.00,231.46 L329.25,231.47 L329.50,231.47 L329.75,231.47 L330.00,231.47 L330.25,231.47 L330.50,231.47 L330.75,231.47 L331.00,231.47 L331.25,231.47 L331.50,231.47 L331.75,231.47 L332.00,231.47 L332.25,231.47 L332.50,231.47 L332.75,231.47 L333.00,231.47 L333.25,231.47 L333.50,231.47 L333.75,231.48 L334.00,231.48 L334.25,231.48 L334.50,231.48 L334.75,231.48 L335.00,231.48 L335.25,231.48 L335.50,231.48 L335.75,231.48 L336.00,231.48 L336.25,231.48 L336.50,231.48 L336.75,231.48 L337.00,231.48 L337.25,231.48 L337.50,231.48 L337.75,231.48 L338.00,231.48 L338.25,231.48 L338.50,231.48 L338.75,231.48 L339.00,231.48 L339.25,231.49 L339.50,231.49 L339.75,231.49 L340.00,231.49 L340.25,231.49 L340.50,231.49 L340.75,231.49 L341.00,231.49 L341.25,231.49 L341.50,231.49 L341.75,231.49 L342.00,231.49 L342.25,231.49 L342.50,231.49 L342.75,231.49 L343.00,231.49 L343.25,231.49 L343.50,231.49 L343.75,231.49 L344.00,231.49 L344.25,231.49 L344.50,231.49 L344.75,231.49 L345.00,231.49 L345.25,231.49 L345.50,231.49 L345.75,231.49 L346.00,231.49 L346.25,231.49 L346.50,231.49 L346.75,231.49 L347.00,231.50 L347.25,231.50 L347.50,231.50 L347.75,231.50 L348.00,231.50 L348.25,231.50 L348.50,231.50 L348.75,231.50 L349.00,231.50 L349.25,231.50 L349.50,231.50 L349.75,231.50 L350.00,231.50 L350.25,231.50 L350.50,231.50 L350.75,231.50 L351.00,231.50 L351.25,231.50 L351.50,231.50 L351.75,231.50 L352.00,231.50 L352.25,231.50 L352.50,231.50 L352.75,231.50 L353.00,231.50 L353.25,231.50 L353.50,231.50 L353.75,231.50 L354.00,231.50 L354.25,231.50 L354.50,231.50 L354.75,231.50 L355.00,231.50 L355.25,231.50 L355.50,231.50 L355.75,231.50 L356.00,231.50 L356.25,231.50 L356.50,231.50 L356.75,231.50 L357.00,231.50 L357.25,231.50 L357.50,231.50" fill="none" stroke="#00a8a8" stroke-width="1.95" stroke-dasharray="3.4 3.84" stroke-dashoffset="0.00" stroke-linejoin="round"/>
<path d="M13.00,94.00 L13.25,93.98 L13.50,93.95 L13.75,93.92 L14.00,93.89 L14.25,93.87 L14.50,93.84 L14.75,93.80 L15.00,93.77 L15.25,93.74 L15.50,93.70 L15.75,93.67 L16.00,93.63 L16.25,93.60 L16.50,93.56 L16.75,93.52 L17.00,93.48 L17.25,93.44 L17.50,93.40 L17.75,93.36 L18.00,93.32 L18.25,93.28 L18.50,93.23 L18.75,93.19 L19.00,93.15 L19.25,93.10 L19.50,93.05 L19.75,93.00 L20.00,92.95 L20.25,92.89 L20.50,92.84 L20.75,92.77 L21.00,92.71 L21.25,92.64 L21.50,92.57 L21.75,92.49 L22.00,92.40 L22.25,92.30 L22.50,92.20 L22.75,92.08 L23.00,91.96 L23.25,91.84 L23.50,91.71 L23.75,91.58 L24.00,91.44 L24.25,91.30 L24.50,91.16 L24.75,91.01 L25.00,90.87 L25.25,90.73 L25.50,90.58 L25.75,90.44 L26.00,90.29 L26.25,90.13 L26.50,89.97 L26.75,89.81 L27.00,89.64 L27.25,89.47 L27.50,89.29 L27.75,89.11 L28.00,88.92 L28.25,88.72 L28.50,88.52 L28.75,88.31 L29.00,88.08 L29.25,87.85 L29.50,87.61 L29.75,87.37 L30.00,87.11 L30.25,86.85 L30.50,86.59 L30.75,86.32 L31.00,86.04 L31.25,85.77 L31.50,85.49 L31.75,85.21 L32.00,84.92 L32.25,84.63 L32.50,84.34 L32.75,84.03 L33.00,83.72 L33.25,83.40 L33.50,83.06 L33.75,82.71 L34.00,82.35 L34.25,81.97 L34.50,81.54 L34.75,81.09 L35.00,80.62 L35.25,80.13 L35.50,79.65 L35.75,79.17 L36.00,78.70 L36.25,78.25 L36.50,77.81 L36.75,77.38 L37.00,76.94 L37.25,76.50 L37.50,76.05 L37.75,75.59 L38.00,75.10 L38.25,74.61 L38.50,74.13 L38.75,73.64 L39.00,73.12 L39.25,72.54 L39.50,71.89 L39.75,71.14 L40.00,70.10 L40.25,68.89 L40.50,67.70 L40.75,66.59 L41.00,65.46 L41.25,64.36 L41.50,63.34 L41.75,62.43 L42.00,61.63 L42.25,60.91 L42.50,60.22 L42.75,59.53 L43.00,58.80 L43.25,58.04 L43.50,57.28 L43.75,56.51 L44.00,55.69 L44.25,54.82 L44.50,53.86 L44.75,52.83 L45.00,51.80 L45.25,50.81 L45.50,49.82 L45.75,48.83 L46.00,47.89 L46.25,47.05 L46.50,46.31 L46.75,45.61 L47.00,44.94 L47.25,44.32 L47.50,43.76 L47.75,43.26 L47.90,43.00 L47.90,43.00 L48.15,43.04 L48.40,43.17 L48.65,43.36 L48.90,43.62 L49.15,43.94 L49.40,44.30 L49.65,44.71 L49.90,45.15 L50.15,45.61 L50.40,46.16 L50.65,46.95 L50.90,47.92 L51.15,49.01 L51.40,50.22 L51.65,51.83 L51.90,53.46 L52.15,54.69 L52.40,55.69 L52.65,56.60 L52.90,57.57 L53.15,58.69 L53.40,59.91 L53.65,61.20 L53.90,62.55 L54.15,63.99 L54.40,65.44 L54.65,66.82 L54.90,68.15 L55.15,69.44 L55.40,70.69 L55.65,71.90 L55.90,73.08 L56.15,74.23 L56.40,75.36 L56.65,76.47 L56.90,77.57 L57.15,78.65 L57.40,79.74 L57.65,80.80 L57.90,81.81 L58.15,82.75 L58.40,83.63 L58.65,84.47 L58.90,85.31 L59.15,86.18 L59.40,87.09 L59.65,88.03 L59.90,88.95 L60.15,89.83 L60.40,90.65 L60.65,91.44 L60.90,92.19 L61.15,92.94 L61.40,93.69 L61.65,94.46 L61.90,95.23 L62.15,96.00 L62.40,96.77 L62.65,97.54 L62.90,98.31 L63.15,99.12 L63.40,99.93 L63.65,100.73 L63.90,101.47 L64.15,102.12 L64.40,102.71 L64.65,103.25 L64.90,103.76 L65.15,104.25 L65.40,104.73 L65.65,105.20 L65.90,105.70 L66.15,106.21 L66.40,106.74 L66.65,107.27 L66.90,107.80 L67.15,108.32 L67.40,108.83 L67.65,109.32 L67.90,109.78 L68.15,110.22 L68.40,110.65 L68.65,111.06 L68.90,111.46 L69.15,111.86 L69.40,112.26 L69.65,112.68 L69.90,113.10 L70.15,113.54 L70.40,114.01 L70.65,114.48 L70.90,114.95 L71.15,115.42 L71.40,115.87 L71.65,116.30 L71.90,116.70 L72.15,117.07 L72.40,117.42 L72.65,117.76 L72.90,118.08 L73.15,118.40 L73.40,118.71 L73.65,119.01 L73.90,119.31 L74.15,119.62 L74.40,119.92 L74.65,120.23 L74.90,120.54 L75.15,120.84 L75.40,121.15 L75.65,121.46 L75.90,121.76 L76.15,122.06 L76.40,122.36 L76.65,122.66 L76.90,122.96 L77.15,123.25 L77.40,123.54 L77.65,123.83 L77.90,124.11 L78.15,124.39 L78.40,124.66 L78.65,124.93 L78.90,125.19 L79.15,125.45 L79.40,125.70 L79.65,125.95 L79.90,126.20 L80.15,126.44 L80.40,126.69 L80.65,126.93 L80.90,127.18 L81.15,127.42 L81.40,127.66 L81.65,127.90 L81.90,128.14 L82.15,128.37 L82.40,128.60 L82.65,128.83 L82.90,129.06 L83.15,129.29 L83.40,129.51 L83.65,129.72 L83.90,129.94 L84.15,130.15 L84.40,130.36 L84.65,130.56 L84.90,130.76 L85.15,130.95 L85.40,131.14 L85.65,131.33 L85.90,131.51 L86.15,131.68 L86.40,131.85 L86.65,132.02 L86.90,132.18 L87.15,132.33 L87.40,132.47 L87.65,132.61 L87.90,132.73 L88.15,132.85 L88.40,132.97 L88.65,133.08 L88.90,133.20 L89.15,133.32 L89.40,133.44 L89.65,133.57 L89.90,133.71 L90.15,133.85 L90.40,134.00 L90.65,134.15 L90.90,134.30 L91.15,134.46 L91.40,134.61 L91.65,134.77 L91.90,134.93 L92.15,135.10 L92.40,135.26 L92.65,135.43 L92.90,135.59 L93.15,135.76 L93.40,135.92 L93.65,136.09 L93.90,136.25 L94.15,136.42 L94.40,136.58 L94.65,136.74 L94.90,136.90 L95.15,137.06 L95.40,137.22 L95.65,137.37 L95.90,137.52 L96.15,137.68 L96.40,137.84 L96.65,138.00 L96.90,138.16 L97.15,138.32 L97.40,138.48 L97.65,138.64 L97.90,138.79 L98.15,138.95 L98.40,139.09 L98.65,139.24 L98.90,139.38 L99.15,139.51 L99.40,139.63 L99.65,139.75 L99.90,139.86 L100.15,139.96 L100.40,140.05 L100.65,140.15 L100.90,140.23 L101.15,140.32 L101.40,140.40 L101.65,140.48 L101.90,140.56 L102.15,140.63 L102.40,140.70 L102.65,140.77 L102.90,140.84 L103.15,140.91 L103.40,140.97 L103.65,141.04 L103.90,141.10 L104.15,141.16 L104.40,141.22 L104.65,141.28 L104.90,141.34 L105.15,141.40 L105.40,141.45 L105.65,141.51 L105.90,141.56 L106.15,141.61 L106.40,141.66 L106.65,141.71 L106.90,141.76 L107.15,141.81 L107.40,141.86 L107.65,141.91 L107.90,141.96 L108.15,142.01 L108.40,142.06 L108.65,142.11 L108.90,142.16 L109.15,142.22 L109.40,142.28 L109.65,142.34 L109.90,142.39 L110.15,142.45 L110.40,142.51 L110.65,142.57 L110.90,142.63 L111.15,142.68 L111.40,142.74 L111.65,142.79 L111.90,142.84 L112.15,142.89 L112.40,142.93 L112.65,142.98 L112.90,143.01 L113.15,143.05 L113.40,143.09 L113.65,143.12 L113.90,143.16 L114.15,143.19 L114.40,143.22 L114.65,143.25 L114.90,143.28 L115.15,143.31 L115.40,143.33 L115.65,143.36 L115.90,143.39 L116.15,143.41 L116.40,143.44 L116.65,143.46 L116.90,143.48 L117.15,143.50 L117.40,143.53 L117.65,143.55 L117.90,143.57 L118.15,143.60 L118.40,143.62 L118.65,143.64 L118.90,143.67 L119.15,143.69 L119.40,143.71 L119.65,143.73 L119.90,143.75 L120.15,143.76 L120.40,143.77 L120.65,143.79 L120.90,143.79 L121.15,143.80 L121.40,143.80 L121.65,143.80 L121.90,143.80 L122.15,143.80 L122.40,143.80 L122.65,143.80 L122.90,143.80 L123.15,143.80 L123.40,143.80 L123.65,143.80 L123.90,143.80 L124.15,143.80 L124.40,143.80 L124.65,143.80 L124.90,143.80 L125.15,143.80 L125.40,143.80 L125.65,143.80 L125.90,143.80 L126.15,143.80 L126.40,143.80 L126.65,143.80 L126.90,143.80 L127.15,143.80 L127.40,143.80 L127.65,143.80 L127.90,143.80 L128.15,143.80 L128.40,143.80 L128.65,143.80 L128.90,143.80 L129.15,143.80 L129.40,143.80 L129.65,143.80 L129.90,143.80 L130.15,143.80 L130.40,143.80 L130.65,143.80 L130.90,143.80 L131.15,143.80 L131.40,143.80 L131.65,143.80 L131.90,143.80 L132.15,143.80 L132.40,143.80 L132.65,143.80 L132.90,143.80 L133.15,143.80 L133.40,143.80 L133.65,143.79 L133.90,143.79 L134.15,143.78 L134.40,143.78 L134.65,143.77 L134.90,143.77 L135.15,143.76 L135.40,143.75 L135.65,143.75 L135.90,143.74 L136.15,143.73 L136.40,143.72 L136.65,143.71 L136.90,143.70 L137.15,143.69 L137.40,143.68 L137.65,143.67 L137.90,143.66 L138.15,143.65 L138.40,143.63 L138.65,143.62 L138.90,143.61 L139.15,143.60 L139.40,143.59 L139.65,143.57 L139.90,143.56 L140.15,143.55 L140.40,143.54 L140.65,143.52 L140.90,143.51 L141.15,143.50 L141.40,143.48 L141.65,143.46 L141.90,143.44 L142.15,143.42 L142.40,143.39 L142.65,143.37 L142.90,143.34 L143.15,143.31 L143.40,143.29 L143.65,143.26 L143.90,143.23 L144.15,143.21 L144.40,143.18 L144.65,143.16 L144.90,143.14 L145.15,143.13 L145.40,143.11 L145.65,143.10 L145.90,143.10 L146.15,143.10 L146.40,143.10 L146.65,143.10 L146.90,143.10 L147.15,143.10 L147.40,143.10 L147.65,143.10 L147.90,143.10 L148.15,143.10 L148.40,143.10 L148.65,143.10 L148.90,143.10 L149.15,143.10 L149.40,143.10 L149.65,143.10 L149.90,143.10 L150.15,143.10 L150.40,143.11 L150.65,143.12 L150.90,143.14 L151.15,143.15 L151.40,143.17 L151.65,143.19 L151.90,143.21 L152.15,143.24 L152.40,143.26 L152.65,143.29 L152.90,143.32 L153.15,143.34 L153.40,143.37 L153.65,143.39 L153.90,143.42 L154.15,143.45 L154.40,143.48 L154.65,143.51 L154.90,143.54 L155.15,143.58 L155.40,143.61 L155.65,143.65 L155.90,143.69 L156.15,143.73 L156.40,143.77 L156.65,143.82 L156.90,143.86 L157.15,143.91 L157.40,143.96 L157.65,144.01 L157.90,144.07 L158.15,144.13 L158.40,144.19 L158.65,144.26 L158.90,144.34 L159.15,144.42 L159.40,144.50 L159.65,144.58 L159.90,144.67 L160.15,144.75 L160.40,144.84 L160.65,144.93 L160.90,145.02 L161.15,145.11 L161.40,145.20 L161.65,145.28 L161.90,145.37 L162.15,145.45 L162.40,145.54 L162.65,145.62 L162.90,145.71 L163.15,145.80 L163.40,145.88 L163.65,145.97 L163.90,146.06 L164.15,146.16 L164.40,146.25 L164.65,146.35 L164.90,146.45 L165.15,146.56 L165.40,146.66 L165.65,146.78 L165.90,146.89 L166.15,147.02 L166.40,147.15 L166.65,147.28 L166.90,147.42 L167.15,147.56 L167.40,147.71 L167.65,147.87 L167.90,148.02 L168.15,148.18 L168.40,148.34 L168.65,148.50 L168.90,148.67 L169.15,148.83 L169.40,149.00 L169.65,149.18 L169.90,149.37 L170.15,149.56 L170.40,149.75 L170.65,149.94 L170.90,150.14 L171.15,150.34 L171.40,150.54 L171.65,150.74 L171.90,150.94 L172.15,151.13 L172.40,151.32 L172.65,151.51 L172.90,151.70 L173.15,151.88 L173.40,152.06 L173.65,152.24 L173.90,152.43 L174.15,152.61 L174.40,152.79 L174.65,152.97 L174.90,153.16 L175.15,153.34 L175.40,153.53 L175.65,153.72 L175.90,153.92 L176.15,154.12 L176.40,154.32 L176.65,154.53 L176.90,154.74 L177.15,154.95 L177.40,155.17 L177.65,155.38 L177.90,155.60 L178.15,155.83 L178.40,156.05 L178.65,156.28 L178.90,156.51 L179.15,156.74 L179.40,156.98 L179.65,157.23 L179.90,157.48 L180.15,157.73 L180.40,157.98 L180.65,158.24 L180.90,158.50 L181.15,158.75 L181.40,159.01 L181.65,159.26 L181.90,159.50 L182.15,159.74 L182.40,159.98 L182.65,160.21 L182.90,160.43 L183.15,160.66 L183.40,160.88 L183.65,161.11 L183.90,161.34 L184.15,161.57 L184.40,161.80 L184.65,162.05 L184.90,162.30 L185.15,162.56 L185.40,162.83 L185.65,163.11 L185.90,163.40 L186.15,163.69 L186.40,163.98 L186.65,164.28 L186.90,164.57 L187.15,164.87 L187.40,165.16 L187.65,165.44 L187.90,165.72 L188.15,166.00 L188.40,166.28 L188.65,166.55 L188.90,166.82 L189.15,167.10 L189.40,167.37 L189.65,167.64 L189.90,167.92 L190.15,168.20 L190.40,168.49 L190.65,168.77 L190.90,169.06 L191.15,169.35 L191.40,169.65 L191.65,169.94 L191.90,170.24 L192.15,170.54 L192.40,170.85 L192.65,171.15 L192.90,171.45 L193.15,171.76 L193.40,172.07 L193.65,172.39 L193.90,172.72 L194.15,173.04 L194.40,173.37 L194.65,173.70 L194.90,174.02 L195.15,174.33 L195.40,174.64 L195.65,174.94 L195.90,175.23 L196.15,175.51 L196.40,175.79 L196.65,176.06 L196.90,176.32 L197.15,176.58 L197.40,176.84 L197.65,177.10 L197.90,177.36 L198.15,177.62 L198.40,177.89 L198.65,178.15 L198.90,178.42 L199.15,178.69 L199.40,178.96 L199.65,179.23 L199.90,179.50 L200.15,179.77 L200.40,180.03 L200.65,180.30 L200.90,180.57 L201.15,180.84 L201.40,181.11 L201.65,181.38 L201.90,181.65 L202.15,181.92 L202.40,182.19 L202.65,182.46 L202.90,182.73 L203.15,183.00 L203.40,183.27 L203.65,183.53 L203.90,183.79 L204.15,184.05 L204.40,184.30 L204.65,184.55 L204.90,184.79 L205.15,185.03 L205.40,185.27 L205.65,185.51 L205.90,185.74 L206.15,185.98 L206.40,186.22 L206.65,186.46 L206.90,186.70 L207.15,186.95 L207.40,187.20 L207.65,187.46 L207.90,187.71 L208.15,187.97 L208.40,188.24 L208.65,188.50 L208.90,188.76 L209.15,189.02 L209.40,189.28 L209.65,189.54 L209.90,189.80 L210.15,190.05 L210.40,190.31 L210.65,190.56 L210.90,190.82 L211.15,191.07 L211.40,191.32 L211.65,191.57 L211.90,191.82 L212.15,192.07 L212.40,192.31 L212.65,192.56 L212.90,192.80 L213.15,193.03 L213.40,193.26 L213.65,193.49 L213.90,193.72 L214.15,193.95 L214.40,194.17 L214.65,194.40 L214.90,194.62 L215.15,194.85 L215.40,195.07 L215.65,195.29 L215.90,195.52 L216.15,195.75 L216.40,195.97 L216.65,196.20 L216.90,196.43 L217.15,196.66 L217.40,196.89 L217.65,197.12 L217.90,197.35 L218.15,197.58 L218.40,197.82 L218.65,198.05 L218.90,198.28 L219.15,198.51 L219.40,198.74 L219.65,198.97 L219.90,199.19 L220.15,199.42 L220.40,199.65 L220.65,199.87 L220.90,200.09 L221.15,200.31 L221.40,200.53 L221.65,200.75 L221.90,200.96 L222.15,201.17 L222.40,201.38 L222.65,201.59 L222.90,201.80 L223.15,202.01 L223.40,202.21 L223.65,202.41 L223.90,202.62 L224.15,202.82 L224.40,203.02 L224.65,203.21 L224.90,203.41 L225.15,203.61 L225.40,203.80 L225.65,203.99 L225.90,204.19 L226.15,204.38 L226.40,204.56 L226.65,204.75 L226.90,204.93 L227.15,205.12 L227.40,205.30 L227.65,205.48 L227.90,205.66 L228.15,205.83 L228.40,206.00 L228.65,206.17 L228.90,206.34 L229.15,206.50 L229.40,206.67 L229.65,206.83 L229.90,206.99 L230.15,207.16 L230.40,207.32 L230.65,207.49 L230.90,207.65 L231.15,207.82 L231.40,207.99 L231.65,208.17 L231.90,208.34 L232.15,208.52 L232.40,208.70 L232.65,208.89 L232.90,209.07 L233.15,209.26 L233.40,209.45 L233.65,209.64 L233.90,209.83 L234.15,210.01 L234.40,210.20 L234.65,210.38 L234.90,210.56 L235.15,210.74 L235.40,210.91 L235.65,211.07 L235.90,211.24 L236.15,211.39 L236.40,211.54 L236.65,211.69 L236.90,211.84 L237.15,211.98 L237.40,212.12 L237.65,212.25 L237.90,212.39 L238.15,212.52 L238.40,212.66 L238.65,212.79 L238.90,212.92 L239.15,213.06 L239.40,213.20 L239.65,213.34 L239.90,213.48 L240.15,213.62 L240.40,213.76 L240.65,213.91 L240.90,214.05 L241.15,214.19 L241.40,214.33 L241.65,214.47 L241.90,214.61 L242.15,214.76 L242.40,214.89 L242.65,215.03 L242.90,215.17 L243.15,215.31 L243.40,215.44 L243.65,215.57 L243.90,215.71 L244.15,215.84 L244.40,215.97 L244.65,216.10 L244.90,216.23 L245.15,216.36 L245.40,216.49 L245.65,216.62 L245.90,216.74 L246.15,216.87 L246.40,216.98 L246.65,217.10 L246.90,217.21 L247.15,217.32 L247.40,217.43 L247.65,217.53 L247.90,217.63 L248.15,217.73 L248.40,217.82 L248.65,217.92 L248.90,218.01 L249.15,218.10 L249.40,218.19 L249.65,218.28 L249.90,218.37 L250.15,218.46 L250.40,218.54 L250.65,218.63 L250.90,218.72 L251.15,218.81 L251.40,218.90 L251.65,218.99 L251.90,219.08 L252.15,219.17 L252.40,219.27 L252.65,219.36 L252.90,219.45 L253.15,219.54 L253.40,219.63 L253.65,219.72 L253.90,219.80 L254.15,219.89 L254.40,219.97 L254.65,220.05 L254.90,220.13 L255.15,220.21 L255.40,220.28 L255.65,220.36 L255.90,220.43 L256.15,220.50 L256.40,220.57 L256.65,220.64 L256.90,220.71 L257.15,220.78 L257.40,220.84 L257.65,220.91 L257.90,220.98 L258.15,221.04 L258.40,221.11 L258.65,221.18 L258.90,221.25 L259.15,221.31 L259.40,221.38 L259.65,221.45 L259.90,221.51 L260.15,221.58 L260.40,221.64 L260.65,221.71 L260.90,221.78 L261.15,221.84 L261.40,221.91 L261.65,221.97 L261.90,222.04 L262.15,222.11 L262.40,222.17 L262.65,222.24 L262.90,222.31 L263.15,222.38 L263.40,222.45 L263.65,222.52 L263.90,222.60 L264.15,222.67 L264.40,222.74 L264.65,222.82 L264.90,222.89 L265.15,222.96 L265.40,223.03 L265.65,223.10 L265.90,223.17 L266.15,223.24 L266.40,223.31 L266.65,223.38 L266.90,223.45 L267.15,223.51 L267.40,223.58 L267.65,223.64 L267.90,223.71 L268.15,223.77 L268.40,223.83 L268.65,223.90 L268.90,223.96 L269.15,224.02 L269.40,224.08 L269.65,224.15 L269.90,224.21 L270.15,224.27 L270.40,224.33 L270.65,224.39 L270.90,224.45 L271.15,224.51 L271.40,224.57 L271.65,224.63 L271.90,224.69 L272.15,224.74 L272.40,224.80 L272.65,224.86 L272.90,224.91 L273.15,224.97 L273.40,225.03 L273.65,225.08 L273.90,225.13 L274.15,225.19 L274.40,225.24 L274.65,225.29 L274.90,225.34 L275.15,225.39 L275.40,225.44 L275.65,225.49 L275.90,225.54 L276.15,225.59 L276.40,225.63 L276.65,225.68 L276.90,225.72 L277.15,225.77 L277.40,225.81 L277.65,225.86 L277.90,225.90 L278.15,225.95 L278.40,225.99 L278.65,226.03 L278.90,226.07 L279.15,226.11 L279.40,226.15 L279.65,226.20 L279.90,226.24 L280.15,226.28 L280.40,226.32 L280.65,226.36 L280.90,226.40 L281.15,226.43 L281.40,226.47 L281.65,226.51 L281.90,226.55 L282.15,226.59 L282.40,226.63 L282.65,226.67 L282.90,226.70 L283.15,226.74 L283.40,226.78 L283.65,226.82 L283.90,226.85 L284.15,226.89 L284.40,226.93 L284.65,226.97 L284.90,227.01 L285.15,227.04 L285.40,227.08 L285.65,227.12 L285.90,227.16 L286.15,227.19 L286.40,227.23 L286.65,227.27 L286.90,227.30 L287.15,227.34 L287.40,227.38 L287.65,227.41 L287.90,227.45 L288.15,227.48 L288.40,227.52 L288.65,227.56 L288.90,227.59 L289.15,227.63 L289.40,227.66 L289.65,227.69 L289.90,227.73 L290.15,227.76 L290.40,227.80 L290.65,227.83 L290.90,227.86 L291.15,227.89 L291.40,227.93 L291.65,227.96 L291.90,227.99 L292.15,228.02 L292.40,228.05 L292.65,228.08 L292.90,228.11 L293.15,228.14 L293.40,228.17 L293.65,228.20 L293.90,228.23 L294.15,228.26 L294.40,228.28 L294.65,228.31 L294.90,228.34 L295.15,228.37 L295.40,228.39 L295.65,228.42 L295.90,228.45 L296.15,228.47 L296.40,228.50 L296.65,228.53 L296.90,228.55 L297.15,228.58 L297.40,228.60 L297.65,228.63 L297.90,228.65 L298.15,228.68 L298.40,228.70 L298.65,228.73 L298.90,228.75 L299.15,228.78 L299.40,228.80 L299.65,228.83 L299.90,228.85 L300.15,228.88 L300.40,228.90 L300.65,228.93 L300.90,228.95 L301.15,228.98 L301.40,229.00 L301.65,229.02 L301.90,229.05 L302.15,229.07 L302.40,229.10 L302.65,229.12 L302.90,229.15 L303.15,229.18 L303.40,229.20 L303.65,229.23 L303.90,229.25 L304.15,229.28 L304.40,229.30 L304.65,229.33 L304.90,229.35 L305.15,229.38 L305.40,229.40 L305.65,229.43 L305.90,229.45 L306.15,229.47 L306.40,229.50 L306.65,229.52 L306.90,229.55 L307.15,229.57 L307.40,229.59 L307.65,229.61 L307.90,229.63 L308.15,229.66 L308.40,229.68 L308.65,229.70 L308.90,229.72 L309.15,229.74 L309.40,229.76 L309.65,229.78 L309.90,229.79 L310.15,229.81 L310.40,229.83 L310.65,229.84 L310.90,229.86 L311.15,229.88 L311.40,229.90 L311.65,229.91 L311.90,229.93 L312.15,229.95 L312.40,229.96 L312.65,229.98 L312.90,230.00 L313.15,230.01 L313.40,230.03 L313.65,230.04 L313.90,230.06 L314.15,230.08 L314.40,230.09 L314.65,230.11 L314.90,230.12 L315.15,230.14 L315.40,230.15 L315.65,230.17 L315.90,230.18 L316.15,230.20 L316.40,230.21 L316.65,230.23 L316.90,230.24 L317.15,230.26 L317.40,230.27 L317.65,230.28 L317.90,230.30 L318.15,230.31 L318.40,230.32 L318.65,230.34 L318.90,230.35 L319.15,230.36 L319.40,230.38 L319.65,230.39 L319.90,230.40 L320.15,230.41 L320.40,230.42 L320.65,230.44 L320.90,230.45 L321.15,230.46 L321.40,230.47 L321.65,230.48 L321.90,230.49 L322.15,230.50 L322.40,230.51 L322.65,230.52 L322.90,230.53 L323.15,230.54 L323.40,230.55 L323.65,230.56 L323.90,230.57 L324.15,230.57 L324.40,230.58 L324.65,230.59 L324.90,230.60 L325.15,230.60 L325.40,230.61 L325.65,230.62 L325.90,230.63 L326.15,230.63 L326.40,230.64 L326.65,230.65 L326.90,230.66 L327.15,230.66 L327.40,230.67 L327.65,230.68 L327.90,230.68 L328.15,230.69 L328.40,230.70 L328.65,230.70 L328.90,230.71 L329.15,230.72 L329.40,230.73 L329.65,230.73 L329.90,230.74 L330.15,230.75 L330.40,230.75 L330.65,230.76 L330.90,230.77 L331.15,230.77 L331.40,230.78 L331.65,230.79 L331.90,230.79 L332.15,230.80 L332.40,230.81 L332.65,230.81 L332.90,230.82 L333.15,230.83 L333.40,230.83 L333.65,230.84 L333.90,230.85 L334.15,230.85 L334.40,230.86 L334.65,230.87 L334.90,230.87 L335.15,230.88 L335.40,230.89 L335.65,230.89 L335.90,230.90 L336.15,230.90 L336.40,230.91 L336.65,230.92 L336.90,230.92 L337.15,230.93 L337.40,230.93 L337.65,230.94 L337.90,230.95 L338.15,230.95 L338.40,230.96 L338.65,230.96 L338.90,230.97 L339.15,230.97 L339.40,230.98 L339.65,230.98 L339.90,230.99 L340.15,231.00 L340.40,231.00 L340.65,231.01 L340.90,231.01 L341.15,231.02 L341.40,231.02 L341.65,231.03 L341.90,231.03 L342.15,231.04 L342.40,231.04 L342.65,231.05 L342.90,231.05 L343.15,231.06 L343.40,231.06 L343.65,231.06 L343.90,231.07 L344.15,231.07 L344.40,231.08 L344.65,231.08 L344.90,231.09 L345.15,231.09 L345.40,231.09 L345.65,231.10 L345.90,231.10 L346.15,231.11 L346.40,231.11 L346.65,231.11 L346.90,231.12 L347.15,231.12 L347.40,231.13 L347.65,231.13 L347.90,231.13 L348.15,231.14 L348.40,231.14 L348.65,231.14 L348.90,231.15 L349.15,231.15 L349.40,231.15 L349.65,231.15 L349.90,231.16 L350.15,231.16 L350.40,231.16 L350.65,231.16 L350.90,231.17 L351.15,231.17 L351.40,231.17 L351.65,231.17 L351.90,231.18 L352.15,231.18 L352.40,231.18 L352.65,231.18 L352.90,231.18 L353.15,231.19 L353.40,231.19 L353.65,231.19 L353.90,231.19 L354.15,231.19 L354.40,231.19 L354.65,231.19 L354.90,231.19 L355.15,231.20 L355.40,231.20 L355.65,231.20 L355.90,231.20 L356.15,231.20 L356.40,231.20 L356.65,231.20 L356.90,231.20 L357.15,231.20 L357.40,231.20 L357.50,231.20" fill="none" stroke="#5a5aff" stroke-width="1.7" stroke-dasharray="1.5 2.63" stroke-dashoffset="0.00" stroke-linejoin="round"/>
<g fill="none">
<path d="M6,231.5 H357.5" stroke="#2a2a2a" stroke-width="0.85"/>
<path d="M12.98,25.5 V242" stroke="#404040" stroke-width="1"/>
<path d="M22.50,231.5 v-2.5 M32.15,231.5 v-2.5 M41.79,231.5 v-2.5 M51.44,231.5 v-2.5 M61.08,231.5 v-4.2 M70.72,231.5 v-2.5 M80.37,231.5 v-2.5 M90.01,231.5 v-2.5 M99.66,231.5 v-2.5 M109.30,231.5 v-4.2 M118.94,231.5 v-2.5 M128.59,231.5 v-2.5 M138.23,231.5 v-2.5 M147.88,231.5 v-2.5 M157.52,231.5 v-4.2 M167.16,231.5 v-2.5 M176.81,231.5 v-2.5 M186.45,231.5 v-2.5 M196.10,231.5 v-2.5 M205.74,231.5 v-4.2 M215.38,231.5 v-2.5 M225.03,231.5 v-2.5 M234.67,231.5 v-2.5 M244.32,231.5 v-2.5 M253.96,231.5 v-4.2 M263.60,231.5 v-2.5 M273.25,231.5 v-2.5 M282.89,231.5 v-2.5 M292.54,231.5 v-2.5 M302.18,231.5 v-4.2 M311.82,231.5 v-2.5 M321.47,231.5 v-2.5 M331.11,231.5 v-2.5 M340.76,231.5 v-2.5 M350.40,231.5 v-4.2" stroke="#2a2a2a" stroke-width="0.8"/>
<path d="M12.86,237.09 h2.5 M12.86,225.91 h2.5 M12.86,220.33 h2.5 M12.86,214.74 h2.5 M12.86,209.16 h2.5 M12.86,203.57 h4.2 M12.86,197.98 h2.5 M12.86,192.40 h2.5 M12.86,186.81 h2.5 M12.86,181.23 h2.5 M12.86,175.64 h4.2 M12.86,170.05 h2.5 M12.86,164.47 h2.5 M12.86,158.88 h2.5 M12.86,153.30 h2.5 M12.86,147.71 h4.2 M12.86,142.12 h2.5 M12.86,136.54 h2.5 M12.86,130.95 h2.5 M12.86,125.37 h2.5 M12.86,119.78 h4.2 M12.86,114.19 h2.5 M12.86,108.61 h2.5 M12.86,103.02 h2.5 M12.86,97.44 h2.5 M12.86,91.85 h4.2 M12.86,86.26 h2.5 M12.86,80.68 h2.5 M12.86,75.09 h2.5 M12.86,69.51 h2.5 M12.86,63.92 h4.2 M12.86,58.33 h2.5 M12.86,52.75 h2.5 M12.86,47.16 h2.5 M12.86,41.58 h2.5 M12.86,35.99 h4.2 M12.86,30.40 h2.5" stroke="#2a2a2a" stroke-width="0.9"/>
</g>
<g font-family="Liberation Serif, serif" fill="#000" text-rendering="geometricPrecision" font-size="15.3" stroke="#000" stroke-width="0.2">
<text x="61.33" y="248" text-anchor="middle">100</text>
<text x="109.55" y="248" text-anchor="middle">200</text>
<text x="157.77" y="248" text-anchor="middle">300</text>
<text x="205.99" y="248" text-anchor="middle">400</text>
<text x="254.21" y="248" text-anchor="middle">500</text>
<text x="302.43" y="248" text-anchor="middle">600</text>
<text x="350.65" y="248" text-anchor="middle">700</text>
<text x="9.3" y="209" text-anchor="end">1</text>
<text x="9.3" y="181" text-anchor="end">2</text>
<text x="9.3" y="153" text-anchor="end">3</text>
<text x="9.3" y="125" text-anchor="end">4</text>
<text x="9.3" y="97" text-anchor="end">5</text>
<text x="9.3" y="69" text-anchor="end">6</text>
<text x="9.3" y="41" text-anchor="end">7</text>
</g>
<g font-family="Liberation Serif, serif" fill="#000" text-rendering="geometricPrecision">
<text transform="translate(0.8,13) scale(1.144,1)" font-size="13.2" font-style="italic">ϕ</text>
<text transform="translate(8.9,13) scale(0.907,1)" font-size="14">(</text>
<text transform="translate(13.94,13) scale(1.37,1)" font-size="13.2" font-style="italic">τ</text>
<text transform="translate(21.4,13) scale(0.9,1)" font-size="14">)</text>
<text transform="translate(365.4,236) scale(1.3,1)" font-size="14.5" font-style="italic">τ</text>
</g>
</svg>
</body></html>
